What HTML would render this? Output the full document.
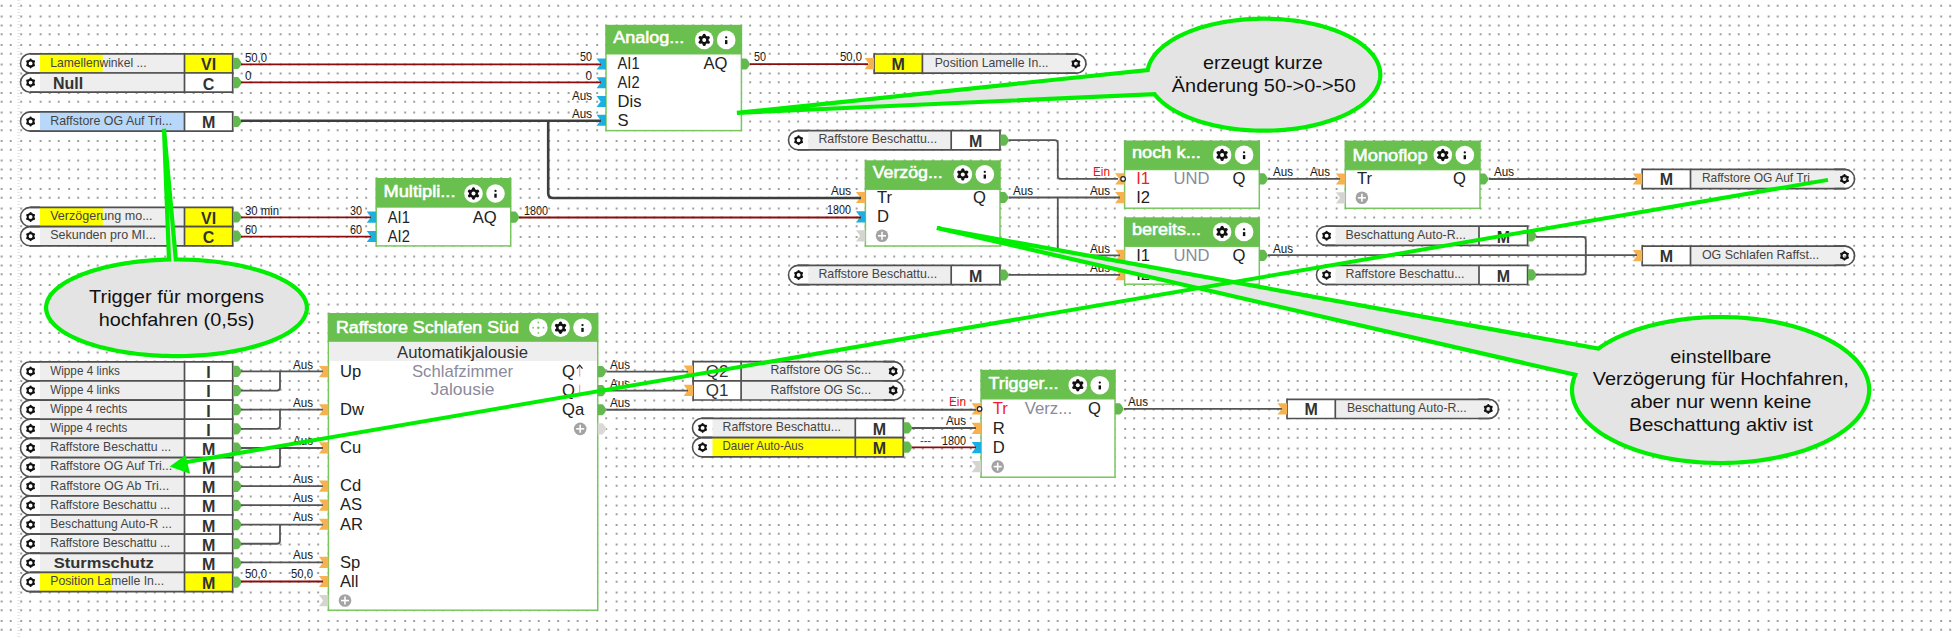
<!DOCTYPE html>
<html><head><meta charset="utf-8">
<style>
html,body{margin:0;padding:0;background:#fff;}
body{width:1956px;height:638px;overflow:hidden;position:relative;font-family:'Liberation Sans', sans-serif;}
svg{position:absolute;left:0;top:0;}
svg text{font-family:'Liberation Sans', sans-serif;}
</style></head><body>
<svg width="1956" height="638" viewBox="0 0 1956 638">
<defs><pattern id="dp" patternUnits="userSpaceOnUse" x="0" y="0" width="48" height="48"><path d="M0.66 4.8h2v2h-2zM9.76 4.8h2v2h-2zM20.2 4.8h2v2h-2zM29.17 4.8h2v2h-2zM39.63 4.8h2v2h-2zM0.66 15.5h2v2h-2zM9.76 15.5h2v2h-2zM20.2 15.5h2v2h-2zM29.17 15.5h2v2h-2zM39.63 15.5h2v2h-2zM0.66 24.4h2v2h-2zM9.76 24.4h2v2h-2zM20.2 24.4h2v2h-2zM29.17 24.4h2v2h-2zM39.63 24.4h2v2h-2zM0.66 33.3h2v2h-2zM9.76 33.3h2v2h-2zM20.2 33.3h2v2h-2zM29.17 33.3h2v2h-2zM39.63 33.3h2v2h-2zM0.66 43.9h2v2h-2zM9.76 43.9h2v2h-2zM20.2 43.9h2v2h-2zM29.17 43.9h2v2h-2zM39.63 43.9h2v2h-2z" fill="rgb(160,160,160)"/></pattern></defs><rect x="0" y="0" width="1956" height="638" fill="url(#dp)"/>
<line x1="18.8" y1="0" x2="18.8" y2="638" stroke="#e6e6e6" stroke-width="3" stroke-dasharray="1 2"/>
<rect x="40" y="53.8" width="144.5" height="19.2" fill="#eeeeee"/>
<rect x="40" y="53.8" width="62.7" height="19.2" fill="#ffff00"/>
<rect x="184.5" y="53.8" width="48.2" height="19.2" fill="#ffff00"/>
<path d="M40 53.8 L30.1 53.8 A9.6 9.6 0 0 0 30.1 73 L40 73" fill="#fff" stroke="#505050" stroke-width="1.6"/>
<line x1="30.1" y1="53.8" x2="232.7" y2="53.8" stroke="#505050" stroke-width="1.7"/>
<line x1="30.1" y1="73" x2="232.7" y2="73" stroke="#505050" stroke-width="1.7"/>
<line x1="184.5" y1="53.8" x2="184.5" y2="73" stroke="#505050" stroke-width="1.7"/>
<line x1="232.7" y1="53" x2="232.7" y2="73.8" stroke="#505050" stroke-width="1.7"/>
<circle cx="30.6" cy="63.4" r="2.94" fill="none" stroke="#111" stroke-width="1.99"/>
<circle cx="30.6" cy="59.5" r="1.09" fill="#111"/>
<circle cx="33.97" cy="61.45" r="1.09" fill="#111"/>
<circle cx="33.97" cy="65.35" r="1.09" fill="#111"/>
<circle cx="30.6" cy="67.3" r="1.09" fill="#111"/>
<circle cx="27.23" cy="65.35" r="1.09" fill="#111"/>
<circle cx="27.23" cy="61.45" r="1.09" fill="#111"/>
<text x="50.2" y="66.6" font-size="11.9" fill="#444444" textLength="96.4" lengthAdjust="spacingAndGlyphs">Lamellenwinkel ...</text>
<text x="208.6" y="70.3" font-size="16" fill="#333" font-weight="bold" text-anchor="middle">VI</text>
<path d="M233.1 57.8 L237.7 57.8 Q239.3 58.4 241.9 63.4 Q239.3 68.4 237.7 69 L233.1 69 Z" fill="#63b950"/>
<rect x="40" y="73" width="144.5" height="19.2" fill="#eeeeee"/>
<rect x="184.5" y="73" width="48.2" height="19.2" fill="#fff"/>
<path d="M40 73 L30.1 73 A9.6 9.6 0 0 0 30.1 92.2 L40 92.2" fill="#fff" stroke="#505050" stroke-width="1.6"/>
<line x1="30.1" y1="73" x2="232.7" y2="73" stroke="#505050" stroke-width="1.7"/>
<line x1="30.1" y1="92.2" x2="232.7" y2="92.2" stroke="#505050" stroke-width="1.7"/>
<line x1="184.5" y1="73" x2="184.5" y2="92.2" stroke="#505050" stroke-width="1.7"/>
<line x1="232.7" y1="72.2" x2="232.7" y2="93" stroke="#505050" stroke-width="1.7"/>
<circle cx="30.6" cy="82.6" r="2.94" fill="none" stroke="#111" stroke-width="1.99"/>
<circle cx="30.6" cy="78.7" r="1.09" fill="#111"/>
<circle cx="33.97" cy="80.65" r="1.09" fill="#111"/>
<circle cx="33.97" cy="84.55" r="1.09" fill="#111"/>
<circle cx="30.6" cy="86.49" r="1.09" fill="#111"/>
<circle cx="27.23" cy="84.55" r="1.09" fill="#111"/>
<circle cx="27.23" cy="80.65" r="1.09" fill="#111"/>
<text x="52.9" y="88.6" font-size="16.2" fill="#333" font-weight="bold" textLength="30.2" lengthAdjust="spacingAndGlyphs">Null</text>
<text x="208.6" y="89.5" font-size="16" fill="#333" font-weight="bold" text-anchor="middle">C</text>
<path d="M233.1 77 L237.7 77 Q239.3 77.6 241.9 82.6 Q239.3 87.6 237.7 88.2 L233.1 88.2 Z" fill="#63b950"/>
<rect x="40" y="111.9" width="144.5" height="19.2" fill="#b8d8fa"/>
<rect x="184.5" y="111.9" width="48.2" height="19.2" fill="#fff"/>
<path d="M40 111.9 L30.1 111.9 A9.6 9.6 0 0 0 30.1 131.1 L40 131.1" fill="#fff" stroke="#505050" stroke-width="1.6"/>
<line x1="30.1" y1="111.9" x2="232.7" y2="111.9" stroke="#505050" stroke-width="1.7"/>
<line x1="30.1" y1="131.1" x2="232.7" y2="131.1" stroke="#505050" stroke-width="1.7"/>
<line x1="184.5" y1="111.9" x2="184.5" y2="131.1" stroke="#505050" stroke-width="1.7"/>
<line x1="232.7" y1="111.1" x2="232.7" y2="131.9" stroke="#505050" stroke-width="1.7"/>
<circle cx="30.6" cy="121.5" r="2.94" fill="none" stroke="#111" stroke-width="1.99"/>
<circle cx="30.6" cy="117.61" r="1.09" fill="#111"/>
<circle cx="33.97" cy="119.55" r="1.09" fill="#111"/>
<circle cx="33.97" cy="123.45" r="1.09" fill="#111"/>
<circle cx="30.6" cy="125.39" r="1.09" fill="#111"/>
<circle cx="27.23" cy="123.45" r="1.09" fill="#111"/>
<circle cx="27.23" cy="119.55" r="1.09" fill="#111"/>
<text x="50.2" y="124.7" font-size="11.9" fill="#444444" textLength="122" lengthAdjust="spacingAndGlyphs">Raffstore OG Auf Tri...</text>
<text x="208.6" y="128.4" font-size="16" fill="#333" font-weight="bold" text-anchor="middle">M</text>
<path d="M233.1 115.9 L237.7 115.9 Q239.3 116.5 241.9 121.5 Q239.3 126.5 237.7 127.1 L233.1 127.1 Z" fill="#63b950"/>
<rect x="40" y="207.4" width="144.5" height="19.2" fill="#eeeeee"/>
<rect x="40" y="207.4" width="62.8" height="19.2" fill="#ffff00"/>
<rect x="184.5" y="207.4" width="48.2" height="19.2" fill="#ffff00"/>
<path d="M40 207.4 L30.1 207.4 A9.6 9.6 0 0 0 30.1 226.6 L40 226.6" fill="#fff" stroke="#505050" stroke-width="1.6"/>
<line x1="30.1" y1="207.4" x2="232.7" y2="207.4" stroke="#505050" stroke-width="1.7"/>
<line x1="30.1" y1="226.6" x2="232.7" y2="226.6" stroke="#505050" stroke-width="1.7"/>
<line x1="184.5" y1="207.4" x2="184.5" y2="226.6" stroke="#505050" stroke-width="1.7"/>
<line x1="232.7" y1="206.6" x2="232.7" y2="227.4" stroke="#505050" stroke-width="1.7"/>
<circle cx="30.6" cy="217" r="2.94" fill="none" stroke="#111" stroke-width="1.99"/>
<circle cx="30.6" cy="213.1" r="1.09" fill="#111"/>
<circle cx="33.97" cy="215.05" r="1.09" fill="#111"/>
<circle cx="33.97" cy="218.95" r="1.09" fill="#111"/>
<circle cx="30.6" cy="220.9" r="1.09" fill="#111"/>
<circle cx="27.23" cy="218.95" r="1.09" fill="#111"/>
<circle cx="27.23" cy="215.05" r="1.09" fill="#111"/>
<text x="50.2" y="220.2" font-size="11.9" fill="#444444" textLength="102.4" lengthAdjust="spacingAndGlyphs">Verzögerung  mo...</text>
<text x="208.6" y="223.9" font-size="16" fill="#333" font-weight="bold" text-anchor="middle">VI</text>
<path d="M233.1 211.4 L237.7 211.4 Q239.3 212 241.9 217 Q239.3 222 237.7 222.6 L233.1 222.6 Z" fill="#63b950"/>
<rect x="40" y="226.6" width="144.5" height="19.2" fill="#eeeeee"/>
<rect x="184.5" y="226.6" width="48.2" height="19.2" fill="#ffff00"/>
<path d="M40 226.6 L30.1 226.6 A9.6 9.6 0 0 0 30.1 245.8 L40 245.8" fill="#fff" stroke="#505050" stroke-width="1.6"/>
<line x1="30.1" y1="226.6" x2="232.7" y2="226.6" stroke="#505050" stroke-width="1.7"/>
<line x1="30.1" y1="245.8" x2="232.7" y2="245.8" stroke="#505050" stroke-width="1.7"/>
<line x1="184.5" y1="226.6" x2="184.5" y2="245.8" stroke="#505050" stroke-width="1.7"/>
<line x1="232.7" y1="225.8" x2="232.7" y2="246.6" stroke="#505050" stroke-width="1.7"/>
<circle cx="30.6" cy="236.2" r="2.94" fill="none" stroke="#111" stroke-width="1.99"/>
<circle cx="30.6" cy="232.3" r="1.09" fill="#111"/>
<circle cx="33.97" cy="234.25" r="1.09" fill="#111"/>
<circle cx="33.97" cy="238.15" r="1.09" fill="#111"/>
<circle cx="30.6" cy="240.09" r="1.09" fill="#111"/>
<circle cx="27.23" cy="238.15" r="1.09" fill="#111"/>
<circle cx="27.23" cy="234.25" r="1.09" fill="#111"/>
<text x="50.2" y="239.4" font-size="11.9" fill="#444444" textLength="105.7" lengthAdjust="spacingAndGlyphs">Sekunden  pro  MI...</text>
<text x="208.6" y="243.1" font-size="16" fill="#333" font-weight="bold" text-anchor="middle">C</text>
<path d="M233.1 230.6 L237.7 230.6 Q239.3 231.2 241.9 236.2 Q239.3 241.2 237.7 241.8 L233.1 241.8 Z" fill="#63b950"/>
<rect x="40" y="361.8" width="144.5" height="19.2" fill="#eeeeee"/>
<rect x="184.5" y="361.8" width="48.2" height="19.2" fill="#fff"/>
<path d="M40 361.8 L30.1 361.8 A9.6 9.6 0 0 0 30.1 381 L40 381" fill="#fff" stroke="#505050" stroke-width="1.6"/>
<line x1="30.1" y1="361.8" x2="232.7" y2="361.8" stroke="#505050" stroke-width="1.7"/>
<line x1="30.1" y1="381" x2="232.7" y2="381" stroke="#505050" stroke-width="1.7"/>
<line x1="184.5" y1="361.8" x2="184.5" y2="381" stroke="#505050" stroke-width="1.7"/>
<line x1="232.7" y1="361" x2="232.7" y2="381.8" stroke="#505050" stroke-width="1.7"/>
<circle cx="30.6" cy="371.4" r="2.94" fill="none" stroke="#111" stroke-width="1.99"/>
<circle cx="30.6" cy="367.51" r="1.09" fill="#111"/>
<circle cx="33.97" cy="369.45" r="1.09" fill="#111"/>
<circle cx="33.97" cy="373.35" r="1.09" fill="#111"/>
<circle cx="30.6" cy="375.3" r="1.09" fill="#111"/>
<circle cx="27.23" cy="373.35" r="1.09" fill="#111"/>
<circle cx="27.23" cy="369.45" r="1.09" fill="#111"/>
<text x="50.2" y="374.6" font-size="11.9" fill="#444444" textLength="69.7" lengthAdjust="spacingAndGlyphs">Wippe 4 links</text>
<text x="208.6" y="378.3" font-size="16" fill="#333" font-weight="bold" text-anchor="middle">I</text>
<path d="M233.1 365.8 L237.7 365.8 Q239.3 366.4 241.9 371.4 Q239.3 376.4 237.7 377 L233.1 377 Z" fill="#63b950"/>
<rect x="40" y="380.95" width="144.5" height="19.2" fill="#eeeeee"/>
<rect x="184.5" y="380.95" width="48.2" height="19.2" fill="#fff"/>
<path d="M40 380.95 L30.1 380.95 A9.6 9.6 0 0 0 30.1 400.15 L40 400.15" fill="#fff" stroke="#505050" stroke-width="1.6"/>
<line x1="30.1" y1="380.95" x2="232.7" y2="380.95" stroke="#505050" stroke-width="1.7"/>
<line x1="30.1" y1="400.15" x2="232.7" y2="400.15" stroke="#505050" stroke-width="1.7"/>
<line x1="184.5" y1="380.95" x2="184.5" y2="400.15" stroke="#505050" stroke-width="1.7"/>
<line x1="232.7" y1="380.15" x2="232.7" y2="400.95" stroke="#505050" stroke-width="1.7"/>
<circle cx="30.6" cy="390.55" r="2.94" fill="none" stroke="#111" stroke-width="1.99"/>
<circle cx="30.6" cy="386.66" r="1.09" fill="#111"/>
<circle cx="33.97" cy="388.6" r="1.09" fill="#111"/>
<circle cx="33.97" cy="392.5" r="1.09" fill="#111"/>
<circle cx="30.6" cy="394.44" r="1.09" fill="#111"/>
<circle cx="27.23" cy="392.5" r="1.09" fill="#111"/>
<circle cx="27.23" cy="388.6" r="1.09" fill="#111"/>
<text x="50.2" y="393.75" font-size="11.9" fill="#444444" textLength="69.7" lengthAdjust="spacingAndGlyphs">Wippe 4 links</text>
<text x="208.6" y="397.45" font-size="16" fill="#333" font-weight="bold" text-anchor="middle">I</text>
<path d="M233.1 384.95 L237.7 384.95 Q239.3 385.55 241.9 390.55 Q239.3 395.55 237.7 396.15 L233.1 396.15 Z" fill="#63b950"/>
<rect x="40" y="400.1" width="144.5" height="19.2" fill="#eeeeee"/>
<rect x="184.5" y="400.1" width="48.2" height="19.2" fill="#fff"/>
<path d="M40 400.1 L30.1 400.1 A9.6 9.6 0 0 0 30.1 419.3 L40 419.3" fill="#fff" stroke="#505050" stroke-width="1.6"/>
<line x1="30.1" y1="400.1" x2="232.7" y2="400.1" stroke="#505050" stroke-width="1.7"/>
<line x1="30.1" y1="419.3" x2="232.7" y2="419.3" stroke="#505050" stroke-width="1.7"/>
<line x1="184.5" y1="400.1" x2="184.5" y2="419.3" stroke="#505050" stroke-width="1.7"/>
<line x1="232.7" y1="399.3" x2="232.7" y2="420.1" stroke="#505050" stroke-width="1.7"/>
<circle cx="30.6" cy="409.7" r="2.94" fill="none" stroke="#111" stroke-width="1.99"/>
<circle cx="30.6" cy="405.81" r="1.09" fill="#111"/>
<circle cx="33.97" cy="407.75" r="1.09" fill="#111"/>
<circle cx="33.97" cy="411.65" r="1.09" fill="#111"/>
<circle cx="30.6" cy="413.6" r="1.09" fill="#111"/>
<circle cx="27.23" cy="411.65" r="1.09" fill="#111"/>
<circle cx="27.23" cy="407.75" r="1.09" fill="#111"/>
<text x="50.2" y="412.9" font-size="11.9" fill="#444444" textLength="77" lengthAdjust="spacingAndGlyphs">Wippe 4 rechts</text>
<text x="208.6" y="416.6" font-size="16" fill="#333" font-weight="bold" text-anchor="middle">I</text>
<path d="M233.1 404.1 L237.7 404.1 Q239.3 404.7 241.9 409.7 Q239.3 414.7 237.7 415.3 L233.1 415.3 Z" fill="#63b950"/>
<rect x="40" y="419.25" width="144.5" height="19.2" fill="#eeeeee"/>
<rect x="184.5" y="419.25" width="48.2" height="19.2" fill="#fff"/>
<path d="M40 419.25 L30.1 419.25 A9.6 9.6 0 0 0 30.1 438.45 L40 438.45" fill="#fff" stroke="#505050" stroke-width="1.6"/>
<line x1="30.1" y1="419.25" x2="232.7" y2="419.25" stroke="#505050" stroke-width="1.7"/>
<line x1="30.1" y1="438.45" x2="232.7" y2="438.45" stroke="#505050" stroke-width="1.7"/>
<line x1="184.5" y1="419.25" x2="184.5" y2="438.45" stroke="#505050" stroke-width="1.7"/>
<line x1="232.7" y1="418.45" x2="232.7" y2="439.25" stroke="#505050" stroke-width="1.7"/>
<circle cx="30.6" cy="428.85" r="2.94" fill="none" stroke="#111" stroke-width="1.99"/>
<circle cx="30.6" cy="424.96" r="1.09" fill="#111"/>
<circle cx="33.97" cy="426.9" r="1.09" fill="#111"/>
<circle cx="33.97" cy="430.8" r="1.09" fill="#111"/>
<circle cx="30.6" cy="432.75" r="1.09" fill="#111"/>
<circle cx="27.23" cy="430.8" r="1.09" fill="#111"/>
<circle cx="27.23" cy="426.9" r="1.09" fill="#111"/>
<text x="50.2" y="432.05" font-size="11.9" fill="#444444" textLength="77" lengthAdjust="spacingAndGlyphs">Wippe 4 rechts</text>
<text x="208.6" y="435.75" font-size="16" fill="#333" font-weight="bold" text-anchor="middle">I</text>
<path d="M233.1 423.25 L237.7 423.25 Q239.3 423.85 241.9 428.85 Q239.3 433.85 237.7 434.45 L233.1 434.45 Z" fill="#63b950"/>
<rect x="40" y="438.4" width="144.5" height="19.2" fill="#eeeeee"/>
<rect x="184.5" y="438.4" width="48.2" height="19.2" fill="#fff"/>
<path d="M40 438.4 L30.1 438.4 A9.6 9.6 0 0 0 30.1 457.6 L40 457.6" fill="#fff" stroke="#505050" stroke-width="1.6"/>
<line x1="30.1" y1="438.4" x2="232.7" y2="438.4" stroke="#505050" stroke-width="1.7"/>
<line x1="30.1" y1="457.6" x2="232.7" y2="457.6" stroke="#505050" stroke-width="1.7"/>
<line x1="184.5" y1="438.4" x2="184.5" y2="457.6" stroke="#505050" stroke-width="1.7"/>
<line x1="232.7" y1="437.6" x2="232.7" y2="458.4" stroke="#505050" stroke-width="1.7"/>
<circle cx="30.6" cy="448" r="2.94" fill="none" stroke="#111" stroke-width="1.99"/>
<circle cx="30.6" cy="444.11" r="1.09" fill="#111"/>
<circle cx="33.97" cy="446.05" r="1.09" fill="#111"/>
<circle cx="33.97" cy="449.95" r="1.09" fill="#111"/>
<circle cx="30.6" cy="451.89" r="1.09" fill="#111"/>
<circle cx="27.23" cy="449.95" r="1.09" fill="#111"/>
<circle cx="27.23" cy="446.05" r="1.09" fill="#111"/>
<text x="50.2" y="451.2" font-size="11.9" fill="#444444" textLength="121" lengthAdjust="spacingAndGlyphs">Raffstore  Beschattu ...</text>
<text x="208.6" y="454.9" font-size="16" fill="#333" font-weight="bold" text-anchor="middle">M</text>
<path d="M233.1 442.4 L237.7 442.4 Q239.3 443 241.9 448 Q239.3 453 237.7 453.6 L233.1 453.6 Z" fill="#63b950"/>
<rect x="40" y="457.55" width="144.5" height="19.2" fill="#eeeeee"/>
<rect x="184.5" y="457.55" width="48.2" height="19.2" fill="#fff"/>
<path d="M40 457.55 L30.1 457.55 A9.6 9.6 0 0 0 30.1 476.75 L40 476.75" fill="#fff" stroke="#505050" stroke-width="1.6"/>
<line x1="30.1" y1="457.55" x2="232.7" y2="457.55" stroke="#505050" stroke-width="1.7"/>
<line x1="30.1" y1="476.75" x2="232.7" y2="476.75" stroke="#505050" stroke-width="1.7"/>
<line x1="184.5" y1="457.55" x2="184.5" y2="476.75" stroke="#505050" stroke-width="1.7"/>
<line x1="232.7" y1="456.75" x2="232.7" y2="477.55" stroke="#505050" stroke-width="1.7"/>
<circle cx="30.6" cy="467.15" r="2.94" fill="none" stroke="#111" stroke-width="1.99"/>
<circle cx="30.6" cy="463.26" r="1.09" fill="#111"/>
<circle cx="33.97" cy="465.2" r="1.09" fill="#111"/>
<circle cx="33.97" cy="469.1" r="1.09" fill="#111"/>
<circle cx="30.6" cy="471.05" r="1.09" fill="#111"/>
<circle cx="27.23" cy="469.1" r="1.09" fill="#111"/>
<circle cx="27.23" cy="465.2" r="1.09" fill="#111"/>
<text x="50.2" y="470.35" font-size="11.9" fill="#444444" textLength="122" lengthAdjust="spacingAndGlyphs">Raffstore  OG  Auf  Tri...</text>
<text x="208.6" y="474.05" font-size="16" fill="#333" font-weight="bold" text-anchor="middle">M</text>
<path d="M233.1 461.55 L237.7 461.55 Q239.3 462.15 241.9 467.15 Q239.3 472.15 237.7 472.75 L233.1 472.75 Z" fill="#63b950"/>
<rect x="40" y="476.7" width="144.5" height="19.2" fill="#eeeeee"/>
<rect x="184.5" y="476.7" width="48.2" height="19.2" fill="#fff"/>
<path d="M40 476.7 L30.1 476.7 A9.6 9.6 0 0 0 30.1 495.9 L40 495.9" fill="#fff" stroke="#505050" stroke-width="1.6"/>
<line x1="30.1" y1="476.7" x2="232.7" y2="476.7" stroke="#505050" stroke-width="1.7"/>
<line x1="30.1" y1="495.9" x2="232.7" y2="495.9" stroke="#505050" stroke-width="1.7"/>
<line x1="184.5" y1="476.7" x2="184.5" y2="495.9" stroke="#505050" stroke-width="1.7"/>
<line x1="232.7" y1="475.9" x2="232.7" y2="496.7" stroke="#505050" stroke-width="1.7"/>
<circle cx="30.6" cy="486.3" r="2.94" fill="none" stroke="#111" stroke-width="1.99"/>
<circle cx="30.6" cy="482.41" r="1.09" fill="#111"/>
<circle cx="33.97" cy="484.35" r="1.09" fill="#111"/>
<circle cx="33.97" cy="488.25" r="1.09" fill="#111"/>
<circle cx="30.6" cy="490.19" r="1.09" fill="#111"/>
<circle cx="27.23" cy="488.25" r="1.09" fill="#111"/>
<circle cx="27.23" cy="484.35" r="1.09" fill="#111"/>
<text x="50.2" y="489.5" font-size="11.9" fill="#444444" textLength="119" lengthAdjust="spacingAndGlyphs">Raffstore  OG  Ab  Tri...</text>
<text x="208.6" y="493.2" font-size="16" fill="#333" font-weight="bold" text-anchor="middle">M</text>
<path d="M233.1 480.7 L237.7 480.7 Q239.3 481.3 241.9 486.3 Q239.3 491.3 237.7 491.9 L233.1 491.9 Z" fill="#63b950"/>
<rect x="40" y="495.85" width="144.5" height="19.2" fill="#eeeeee"/>
<rect x="184.5" y="495.85" width="48.2" height="19.2" fill="#fff"/>
<path d="M40 495.85 L30.1 495.85 A9.6 9.6 0 0 0 30.1 515.05 L40 515.05" fill="#fff" stroke="#505050" stroke-width="1.6"/>
<line x1="30.1" y1="495.85" x2="232.7" y2="495.85" stroke="#505050" stroke-width="1.7"/>
<line x1="30.1" y1="515.05" x2="232.7" y2="515.05" stroke="#505050" stroke-width="1.7"/>
<line x1="184.5" y1="495.85" x2="184.5" y2="515.05" stroke="#505050" stroke-width="1.7"/>
<line x1="232.7" y1="495.05" x2="232.7" y2="515.85" stroke="#505050" stroke-width="1.7"/>
<circle cx="30.6" cy="505.45" r="2.94" fill="none" stroke="#111" stroke-width="1.99"/>
<circle cx="30.6" cy="501.56" r="1.09" fill="#111"/>
<circle cx="33.97" cy="503.5" r="1.09" fill="#111"/>
<circle cx="33.97" cy="507.4" r="1.09" fill="#111"/>
<circle cx="30.6" cy="509.35" r="1.09" fill="#111"/>
<circle cx="27.23" cy="507.4" r="1.09" fill="#111"/>
<circle cx="27.23" cy="503.5" r="1.09" fill="#111"/>
<text x="50.2" y="508.65" font-size="11.9" fill="#444444" textLength="120" lengthAdjust="spacingAndGlyphs">Raffstore  Beschattu ...</text>
<text x="208.6" y="512.35" font-size="16" fill="#333" font-weight="bold" text-anchor="middle">M</text>
<path d="M233.1 499.85 L237.7 499.85 Q239.3 500.45 241.9 505.45 Q239.3 510.45 237.7 511.05 L233.1 511.05 Z" fill="#63b950"/>
<rect x="40" y="515" width="144.5" height="19.2" fill="#eeeeee"/>
<rect x="184.5" y="515" width="48.2" height="19.2" fill="#fff"/>
<path d="M40 515 L30.1 515 A9.6 9.6 0 0 0 30.1 534.2 L40 534.2" fill="#fff" stroke="#505050" stroke-width="1.6"/>
<line x1="30.1" y1="515" x2="232.7" y2="515" stroke="#505050" stroke-width="1.7"/>
<line x1="30.1" y1="534.2" x2="232.7" y2="534.2" stroke="#505050" stroke-width="1.7"/>
<line x1="184.5" y1="515" x2="184.5" y2="534.2" stroke="#505050" stroke-width="1.7"/>
<line x1="232.7" y1="514.2" x2="232.7" y2="535" stroke="#505050" stroke-width="1.7"/>
<circle cx="30.6" cy="524.6" r="2.94" fill="none" stroke="#111" stroke-width="1.99"/>
<circle cx="30.6" cy="520.71" r="1.09" fill="#111"/>
<circle cx="33.97" cy="522.65" r="1.09" fill="#111"/>
<circle cx="33.97" cy="526.55" r="1.09" fill="#111"/>
<circle cx="30.6" cy="528.5" r="1.09" fill="#111"/>
<circle cx="27.23" cy="526.55" r="1.09" fill="#111"/>
<circle cx="27.23" cy="522.65" r="1.09" fill="#111"/>
<text x="50.2" y="527.8" font-size="11.9" fill="#444444" textLength="121.6" lengthAdjust="spacingAndGlyphs">Beschattung  Auto-R ...</text>
<text x="208.6" y="531.5" font-size="16" fill="#333" font-weight="bold" text-anchor="middle">M</text>
<path d="M233.1 519 L237.7 519 Q239.3 519.6 241.9 524.6 Q239.3 529.6 237.7 530.2 L233.1 530.2 Z" fill="#63b950"/>
<rect x="40" y="534.15" width="144.5" height="19.2" fill="#eeeeee"/>
<rect x="184.5" y="534.15" width="48.2" height="19.2" fill="#fff"/>
<path d="M40 534.15 L30.1 534.15 A9.6 9.6 0 0 0 30.1 553.35 L40 553.35" fill="#fff" stroke="#505050" stroke-width="1.6"/>
<line x1="30.1" y1="534.15" x2="232.7" y2="534.15" stroke="#505050" stroke-width="1.7"/>
<line x1="30.1" y1="553.35" x2="232.7" y2="553.35" stroke="#505050" stroke-width="1.7"/>
<line x1="184.5" y1="534.15" x2="184.5" y2="553.35" stroke="#505050" stroke-width="1.7"/>
<line x1="232.7" y1="533.35" x2="232.7" y2="554.15" stroke="#505050" stroke-width="1.7"/>
<circle cx="30.6" cy="543.75" r="2.94" fill="none" stroke="#111" stroke-width="1.99"/>
<circle cx="30.6" cy="539.86" r="1.09" fill="#111"/>
<circle cx="33.97" cy="541.8" r="1.09" fill="#111"/>
<circle cx="33.97" cy="545.7" r="1.09" fill="#111"/>
<circle cx="30.6" cy="547.64" r="1.09" fill="#111"/>
<circle cx="27.23" cy="545.7" r="1.09" fill="#111"/>
<circle cx="27.23" cy="541.8" r="1.09" fill="#111"/>
<text x="50.2" y="546.95" font-size="11.9" fill="#444444" textLength="120" lengthAdjust="spacingAndGlyphs">Raffstore  Beschattu ...</text>
<text x="208.6" y="550.65" font-size="16" fill="#333" font-weight="bold" text-anchor="middle">M</text>
<path d="M233.1 538.15 L237.7 538.15 Q239.3 538.75 241.9 543.75 Q239.3 548.75 237.7 549.35 L233.1 549.35 Z" fill="#63b950"/>
<rect x="40" y="553.3" width="144.5" height="19.2" fill="#eeeeee"/>
<rect x="184.5" y="553.3" width="48.2" height="19.2" fill="#fff"/>
<path d="M40 553.3 L30.1 553.3 A9.6 9.6 0 0 0 30.1 572.5 L40 572.5" fill="#fff" stroke="#505050" stroke-width="1.6"/>
<line x1="30.1" y1="553.3" x2="232.7" y2="553.3" stroke="#505050" stroke-width="1.7"/>
<line x1="30.1" y1="572.5" x2="232.7" y2="572.5" stroke="#505050" stroke-width="1.7"/>
<line x1="184.5" y1="553.3" x2="184.5" y2="572.5" stroke="#505050" stroke-width="1.7"/>
<line x1="232.7" y1="552.5" x2="232.7" y2="573.3" stroke="#505050" stroke-width="1.7"/>
<circle cx="30.6" cy="562.9" r="2.94" fill="none" stroke="#111" stroke-width="1.99"/>
<circle cx="30.6" cy="559" r="1.09" fill="#111"/>
<circle cx="33.97" cy="560.95" r="1.09" fill="#111"/>
<circle cx="33.97" cy="564.85" r="1.09" fill="#111"/>
<circle cx="30.6" cy="566.79" r="1.09" fill="#111"/>
<circle cx="27.23" cy="564.85" r="1.09" fill="#111"/>
<circle cx="27.23" cy="560.95" r="1.09" fill="#111"/>
<text x="53.7" y="568" font-size="14.8" fill="#333" font-weight="bold" textLength="100" lengthAdjust="spacingAndGlyphs">Sturmschutz</text>
<text x="208.6" y="569.8" font-size="16" fill="#333" font-weight="bold" text-anchor="middle">M</text>
<path d="M233.1 557.3 L237.7 557.3 Q239.3 557.9 241.9 562.9 Q239.3 567.9 237.7 568.5 L233.1 568.5 Z" fill="#63b950"/>
<rect x="40" y="572.45" width="144.5" height="19.2" fill="#eeeeee"/>
<rect x="40" y="572.45" width="72" height="19.2" fill="#ffff00"/>
<rect x="184.5" y="572.45" width="48.2" height="19.2" fill="#ffff00"/>
<path d="M40 572.45 L30.1 572.45 A9.6 9.6 0 0 0 30.1 591.65 L40 591.65" fill="#fff" stroke="#505050" stroke-width="1.6"/>
<line x1="30.1" y1="572.45" x2="232.7" y2="572.45" stroke="#505050" stroke-width="1.7"/>
<line x1="30.1" y1="591.65" x2="232.7" y2="591.65" stroke="#505050" stroke-width="1.7"/>
<line x1="184.5" y1="572.45" x2="184.5" y2="591.65" stroke="#505050" stroke-width="1.7"/>
<line x1="232.7" y1="571.65" x2="232.7" y2="592.45" stroke="#505050" stroke-width="1.7"/>
<circle cx="30.6" cy="582.05" r="2.94" fill="none" stroke="#111" stroke-width="1.99"/>
<circle cx="30.6" cy="578.16" r="1.09" fill="#111"/>
<circle cx="33.97" cy="580.1" r="1.09" fill="#111"/>
<circle cx="33.97" cy="584" r="1.09" fill="#111"/>
<circle cx="30.6" cy="585.95" r="1.09" fill="#111"/>
<circle cx="27.23" cy="584" r="1.09" fill="#111"/>
<circle cx="27.23" cy="580.1" r="1.09" fill="#111"/>
<text x="50.2" y="585.25" font-size="11.9" fill="#444444" textLength="114" lengthAdjust="spacingAndGlyphs">Position  Lamelle  In...</text>
<text x="208.6" y="588.95" font-size="16" fill="#333" font-weight="bold" text-anchor="middle">M</text>
<path d="M233.1 576.45 L237.7 576.45 Q239.3 577.05 241.9 582.05 Q239.3 587.05 237.7 587.65 L233.1 587.65 Z" fill="#63b950"/>
<rect x="808.2" y="130.6" width="143" height="19.2" fill="#eeeeee"/>
<rect x="951.2" y="130.6" width="48.8" height="19.2" fill="#fff"/>
<path d="M808.2 130.6 L798.1 130.6 A9.6 9.6 0 0 0 798.1 149.8 L808.2 149.8" fill="#fff" stroke="#505050" stroke-width="1.6"/>
<line x1="798.1" y1="130.6" x2="1000" y2="130.6" stroke="#505050" stroke-width="1.7"/>
<line x1="798.1" y1="149.8" x2="1000" y2="149.8" stroke="#505050" stroke-width="1.7"/>
<line x1="951.2" y1="130.6" x2="951.2" y2="149.8" stroke="#505050" stroke-width="1.7"/>
<line x1="1000" y1="129.8" x2="1000" y2="150.6" stroke="#505050" stroke-width="1.7"/>
<circle cx="798.6" cy="140.2" r="2.94" fill="none" stroke="#111" stroke-width="1.99"/>
<circle cx="798.6" cy="136.3" r="1.09" fill="#111"/>
<circle cx="801.97" cy="138.25" r="1.09" fill="#111"/>
<circle cx="801.97" cy="142.15" r="1.09" fill="#111"/>
<circle cx="798.6" cy="144.09" r="1.09" fill="#111"/>
<circle cx="795.23" cy="142.15" r="1.09" fill="#111"/>
<circle cx="795.23" cy="138.25" r="1.09" fill="#111"/>
<text x="818.4" y="143.4" font-size="11.9" fill="#444444" textLength="118.8" lengthAdjust="spacingAndGlyphs">Raffstore  Beschattu...</text>
<text x="975.6" y="147.1" font-size="16" fill="#333" font-weight="bold" text-anchor="middle">M</text>
<path d="M1000.4 134.6 L1005 134.6 Q1006.6 135.2 1009.2 140.2 Q1006.6 145.2 1005 145.8 L1000.4 145.8 Z" fill="#63b950"/>
<rect x="808.2" y="265.4" width="143" height="19.2" fill="#eeeeee"/>
<rect x="951.2" y="265.4" width="48.8" height="19.2" fill="#fff"/>
<path d="M808.2 265.4 L798.1 265.4 A9.6 9.6 0 0 0 798.1 284.6 L808.2 284.6" fill="#fff" stroke="#505050" stroke-width="1.6"/>
<line x1="798.1" y1="265.4" x2="1000" y2="265.4" stroke="#505050" stroke-width="1.7"/>
<line x1="798.1" y1="284.6" x2="1000" y2="284.6" stroke="#505050" stroke-width="1.7"/>
<line x1="951.2" y1="265.4" x2="951.2" y2="284.6" stroke="#505050" stroke-width="1.7"/>
<line x1="1000" y1="264.6" x2="1000" y2="285.4" stroke="#505050" stroke-width="1.7"/>
<circle cx="798.6" cy="275" r="2.94" fill="none" stroke="#111" stroke-width="1.99"/>
<circle cx="798.6" cy="271.11" r="1.09" fill="#111"/>
<circle cx="801.97" cy="273.05" r="1.09" fill="#111"/>
<circle cx="801.97" cy="276.95" r="1.09" fill="#111"/>
<circle cx="798.6" cy="278.89" r="1.09" fill="#111"/>
<circle cx="795.23" cy="276.95" r="1.09" fill="#111"/>
<circle cx="795.23" cy="273.05" r="1.09" fill="#111"/>
<text x="818.4" y="278.2" font-size="11.9" fill="#444444" textLength="118.8" lengthAdjust="spacingAndGlyphs">Raffstore  Beschattu...</text>
<text x="975.6" y="281.9" font-size="16" fill="#333" font-weight="bold" text-anchor="middle">M</text>
<path d="M1000.4 269.4 L1005 269.4 Q1006.6 270 1009.2 275 Q1006.6 280 1005 280.6 L1000.4 280.6 Z" fill="#63b950"/>
<rect x="1335.3" y="226.2" width="143.7" height="19.2" fill="#eeeeee"/>
<rect x="1479" y="226.2" width="48.6" height="19.2" fill="#fff"/>
<path d="M1335.3 226.2 L1326.1 226.2 A9.6 9.6 0 0 0 1326.1 245.4 L1335.3 245.4" fill="#fff" stroke="#505050" stroke-width="1.6"/>
<line x1="1326.1" y1="226.2" x2="1527.6" y2="226.2" stroke="#505050" stroke-width="1.7"/>
<line x1="1326.1" y1="245.4" x2="1527.6" y2="245.4" stroke="#505050" stroke-width="1.7"/>
<line x1="1479" y1="226.2" x2="1479" y2="245.4" stroke="#505050" stroke-width="1.7"/>
<line x1="1527.6" y1="225.4" x2="1527.6" y2="246.2" stroke="#505050" stroke-width="1.7"/>
<circle cx="1326.6" cy="235.8" r="2.94" fill="none" stroke="#111" stroke-width="1.99"/>
<circle cx="1326.6" cy="231.9" r="1.09" fill="#111"/>
<circle cx="1329.97" cy="233.85" r="1.09" fill="#111"/>
<circle cx="1329.97" cy="237.75" r="1.09" fill="#111"/>
<circle cx="1326.6" cy="239.69" r="1.09" fill="#111"/>
<circle cx="1323.23" cy="237.75" r="1.09" fill="#111"/>
<circle cx="1323.23" cy="233.85" r="1.09" fill="#111"/>
<text x="1345.5" y="239" font-size="11.9" fill="#444444" textLength="120.4" lengthAdjust="spacingAndGlyphs">Beschattung  Auto-R...</text>
<text x="1503.3" y="242.7" font-size="16" fill="#333" font-weight="bold" text-anchor="middle">M</text>
<path d="M1528 230.2 L1532.6 230.2 Q1534.2 230.8 1536.8 235.8 Q1534.2 240.8 1532.6 241.4 L1528 241.4 Z" fill="#63b950"/>
<rect x="1335.3" y="265.3" width="143.7" height="19.2" fill="#eeeeee"/>
<rect x="1479" y="265.3" width="48.6" height="19.2" fill="#fff"/>
<path d="M1335.3 265.3 L1326.1 265.3 A9.6 9.6 0 0 0 1326.1 284.5 L1335.3 284.5" fill="#fff" stroke="#505050" stroke-width="1.6"/>
<line x1="1326.1" y1="265.3" x2="1527.6" y2="265.3" stroke="#505050" stroke-width="1.7"/>
<line x1="1326.1" y1="284.5" x2="1527.6" y2="284.5" stroke="#505050" stroke-width="1.7"/>
<line x1="1479" y1="265.3" x2="1479" y2="284.5" stroke="#505050" stroke-width="1.7"/>
<line x1="1527.6" y1="264.5" x2="1527.6" y2="285.3" stroke="#505050" stroke-width="1.7"/>
<circle cx="1326.6" cy="274.9" r="2.94" fill="none" stroke="#111" stroke-width="1.99"/>
<circle cx="1326.6" cy="271.01" r="1.09" fill="#111"/>
<circle cx="1329.97" cy="272.95" r="1.09" fill="#111"/>
<circle cx="1329.97" cy="276.85" r="1.09" fill="#111"/>
<circle cx="1326.6" cy="278.8" r="1.09" fill="#111"/>
<circle cx="1323.23" cy="276.85" r="1.09" fill="#111"/>
<circle cx="1323.23" cy="272.95" r="1.09" fill="#111"/>
<text x="1345.5" y="278.1" font-size="11.9" fill="#444444" textLength="119" lengthAdjust="spacingAndGlyphs">Raffstore  Beschattu...</text>
<text x="1503.3" y="281.8" font-size="16" fill="#333" font-weight="bold" text-anchor="middle">M</text>
<path d="M1528 269.3 L1532.6 269.3 Q1534.2 269.9 1536.8 274.9 Q1534.2 279.9 1532.6 280.5 L1528 280.5 Z" fill="#63b950"/>
<rect x="712.3" y="418.3" width="143" height="19.2" fill="#eeeeee"/>
<rect x="855.3" y="418.3" width="48" height="19.2" fill="#fff"/>
<path d="M712.3 418.3 L702.1 418.3 A9.6 9.6 0 0 0 702.1 437.5 L712.3 437.5" fill="#fff" stroke="#505050" stroke-width="1.6"/>
<line x1="702.1" y1="418.3" x2="903.3" y2="418.3" stroke="#505050" stroke-width="1.7"/>
<line x1="702.1" y1="437.5" x2="903.3" y2="437.5" stroke="#505050" stroke-width="1.7"/>
<line x1="855.3" y1="418.3" x2="855.3" y2="437.5" stroke="#505050" stroke-width="1.7"/>
<line x1="903.3" y1="417.5" x2="903.3" y2="438.3" stroke="#505050" stroke-width="1.7"/>
<circle cx="702.6" cy="427.9" r="2.94" fill="none" stroke="#111" stroke-width="1.99"/>
<circle cx="702.6" cy="424.01" r="1.09" fill="#111"/>
<circle cx="705.97" cy="425.95" r="1.09" fill="#111"/>
<circle cx="705.97" cy="429.85" r="1.09" fill="#111"/>
<circle cx="702.6" cy="431.8" r="1.09" fill="#111"/>
<circle cx="699.23" cy="429.85" r="1.09" fill="#111"/>
<circle cx="699.23" cy="425.95" r="1.09" fill="#111"/>
<text x="722.5" y="431.1" font-size="11.9" fill="#444444" textLength="118.5" lengthAdjust="spacingAndGlyphs">Raffstore  Beschattu...</text>
<text x="879.3" y="434.8" font-size="16" fill="#333" font-weight="bold" text-anchor="middle">M</text>
<path d="M903.7 422.3 L908.3 422.3 Q909.9 422.9 912.5 427.9 Q909.9 432.9 908.3 433.5 L903.7 433.5 Z" fill="#63b950"/>
<rect x="712.3" y="437.6" width="143" height="19.2" fill="#eeeeee"/>
<rect x="712.3" y="437.6" width="143" height="19.2" fill="#ffff00"/>
<rect x="855.3" y="437.6" width="48" height="19.2" fill="#ffff00"/>
<path d="M712.3 437.6 L702.1 437.6 A9.6 9.6 0 0 0 702.1 456.8 L712.3 456.8" fill="#fff" stroke="#505050" stroke-width="1.6"/>
<line x1="702.1" y1="437.6" x2="903.3" y2="437.6" stroke="#505050" stroke-width="1.7"/>
<line x1="702.1" y1="456.8" x2="903.3" y2="456.8" stroke="#505050" stroke-width="1.7"/>
<line x1="855.3" y1="437.6" x2="855.3" y2="456.8" stroke="#505050" stroke-width="1.7"/>
<line x1="903.3" y1="436.8" x2="903.3" y2="457.6" stroke="#505050" stroke-width="1.7"/>
<circle cx="702.6" cy="447.2" r="2.94" fill="none" stroke="#111" stroke-width="1.99"/>
<circle cx="702.6" cy="443.31" r="1.09" fill="#111"/>
<circle cx="705.97" cy="445.25" r="1.09" fill="#111"/>
<circle cx="705.97" cy="449.15" r="1.09" fill="#111"/>
<circle cx="702.6" cy="451.1" r="1.09" fill="#111"/>
<circle cx="699.23" cy="449.15" r="1.09" fill="#111"/>
<circle cx="699.23" cy="445.25" r="1.09" fill="#111"/>
<text x="722.5" y="450.4" font-size="11.9" fill="#444444" textLength="81" lengthAdjust="spacingAndGlyphs">Dauer Auto-Aus</text>
<text x="879.3" y="454.1" font-size="16" fill="#333" font-weight="bold" text-anchor="middle">M</text>
<path d="M903.7 441.6 L908.3 441.6 Q909.9 442.2 912.5 447.2 Q909.9 452.2 908.3 452.8 L903.7 452.8 Z" fill="#63b950"/>
<rect x="922.4" y="54" width="153" height="19.2" fill="#eeeeee"/>
<rect x="874.1" y="54" width="48.3" height="19.2" fill="#ffff00"/>
<path d="M1066 54 L1076.4 54 A9.6 9.6 0 0 1 1076.4 73.2 L1066 73.2" fill="none" stroke="#505050" stroke-width="1.6"/>
<line x1="874.1" y1="54" x2="1076.4" y2="54" stroke="#505050" stroke-width="1.7"/>
<line x1="874.1" y1="73.2" x2="1076.4" y2="73.2" stroke="#505050" stroke-width="1.7"/>
<line x1="874.1" y1="53.2" x2="874.1" y2="74" stroke="#505050" stroke-width="1.7"/>
<line x1="922.4" y1="54" x2="922.4" y2="73.2" stroke="#505050" stroke-width="1.7"/>
<circle cx="1075.9" cy="63.6" r="2.94" fill="none" stroke="#111" stroke-width="1.99"/>
<circle cx="1075.9" cy="59.7" r="1.09" fill="#111"/>
<circle cx="1079.27" cy="61.65" r="1.09" fill="#111"/>
<circle cx="1079.27" cy="65.55" r="1.09" fill="#111"/>
<circle cx="1075.9" cy="67.5" r="1.09" fill="#111"/>
<circle cx="1072.53" cy="65.55" r="1.09" fill="#111"/>
<circle cx="1072.53" cy="61.65" r="1.09" fill="#111"/>
<text x="934.7" y="66.8" font-size="11.9" fill="#444444" textLength="113.8" lengthAdjust="spacingAndGlyphs">Position  Lamelle  In...</text>
<text x="898.25" y="69.8" font-size="16" fill="#333" font-weight="bold" text-anchor="middle">M</text>
<path d="M864.6 58 L874.1 58 L874.1 69.2 L864.6 69.2 L868.8 63.6 Z" fill="#f6b24e"/>
<rect x="1690.5" y="169.4" width="153.5" height="19.2" fill="#eeeeee"/>
<rect x="1642.2" y="169.4" width="48.3" height="19.2" fill="#fff"/>
<path d="M1834.6 169.4 L1845 169.4 A9.6 9.6 0 0 1 1845 188.6 L1834.6 188.6" fill="none" stroke="#505050" stroke-width="1.6"/>
<line x1="1642.2" y1="169.4" x2="1845" y2="169.4" stroke="#505050" stroke-width="1.7"/>
<line x1="1642.2" y1="188.6" x2="1845" y2="188.6" stroke="#505050" stroke-width="1.7"/>
<line x1="1642.2" y1="168.6" x2="1642.2" y2="189.4" stroke="#505050" stroke-width="1.7"/>
<line x1="1690.5" y1="169.4" x2="1690.5" y2="188.6" stroke="#505050" stroke-width="1.7"/>
<circle cx="1844.5" cy="179" r="2.94" fill="none" stroke="#111" stroke-width="1.99"/>
<circle cx="1844.5" cy="175.1" r="1.09" fill="#111"/>
<circle cx="1847.87" cy="177.05" r="1.09" fill="#111"/>
<circle cx="1847.87" cy="180.95" r="1.09" fill="#111"/>
<circle cx="1844.5" cy="182.9" r="1.09" fill="#111"/>
<circle cx="1841.13" cy="180.95" r="1.09" fill="#111"/>
<circle cx="1841.13" cy="177.05" r="1.09" fill="#111"/>
<text x="1701.9" y="182.2" font-size="11.9" fill="#444444" textLength="118" lengthAdjust="spacingAndGlyphs">Raffstore OG Auf Tri...</text>
<text x="1666.35" y="185.2" font-size="16" fill="#333" font-weight="bold" text-anchor="middle">M</text>
<path d="M1632.7 173.4 L1642.2 173.4 L1642.2 184.6 L1632.7 184.6 L1636.9 179 Z" fill="#f6b24e"/>
<rect x="1690.5" y="246.1" width="153.5" height="19.2" fill="#eeeeee"/>
<rect x="1642.2" y="246.1" width="48.3" height="19.2" fill="#fff"/>
<path d="M1834.6 246.1 L1845 246.1 A9.6 9.6 0 0 1 1845 265.3 L1834.6 265.3" fill="none" stroke="#505050" stroke-width="1.6"/>
<line x1="1642.2" y1="246.1" x2="1845" y2="246.1" stroke="#505050" stroke-width="1.7"/>
<line x1="1642.2" y1="265.3" x2="1845" y2="265.3" stroke="#505050" stroke-width="1.7"/>
<line x1="1642.2" y1="245.3" x2="1642.2" y2="266.1" stroke="#505050" stroke-width="1.7"/>
<line x1="1690.5" y1="246.1" x2="1690.5" y2="265.3" stroke="#505050" stroke-width="1.7"/>
<circle cx="1844.5" cy="255.7" r="2.94" fill="none" stroke="#111" stroke-width="1.99"/>
<circle cx="1844.5" cy="251.8" r="1.09" fill="#111"/>
<circle cx="1847.87" cy="253.75" r="1.09" fill="#111"/>
<circle cx="1847.87" cy="257.65" r="1.09" fill="#111"/>
<circle cx="1844.5" cy="259.59" r="1.09" fill="#111"/>
<circle cx="1841.13" cy="257.65" r="1.09" fill="#111"/>
<circle cx="1841.13" cy="253.75" r="1.09" fill="#111"/>
<text x="1701.9" y="258.9" font-size="11.9" fill="#444444" textLength="117.4" lengthAdjust="spacingAndGlyphs">OG  Schlafen  Raffst...</text>
<text x="1666.35" y="261.9" font-size="16" fill="#333" font-weight="bold" text-anchor="middle">M</text>
<path d="M1632.7 250.1 L1642.2 250.1 L1642.2 261.3 L1632.7 261.3 L1636.9 255.7 Z" fill="#f6b24e"/>
<rect x="741.1" y="361.6" width="151.6" height="19.2" fill="#eeeeee"/>
<rect x="693.1" y="361.6" width="48" height="19.2" fill="#fff"/>
<path d="M883.3 361.6 L893.7 361.6 A9.6 9.6 0 0 1 893.7 380.8 L883.3 380.8" fill="none" stroke="#505050" stroke-width="1.6"/>
<line x1="693.1" y1="361.6" x2="893.7" y2="361.6" stroke="#505050" stroke-width="1.7"/>
<line x1="693.1" y1="380.8" x2="893.7" y2="380.8" stroke="#505050" stroke-width="1.7"/>
<line x1="693.1" y1="360.8" x2="693.1" y2="381.6" stroke="#505050" stroke-width="1.7"/>
<line x1="741.1" y1="361.6" x2="741.1" y2="380.8" stroke="#505050" stroke-width="1.7"/>
<circle cx="893.2" cy="371.2" r="2.94" fill="none" stroke="#111" stroke-width="1.99"/>
<circle cx="893.2" cy="367.31" r="1.09" fill="#111"/>
<circle cx="896.57" cy="369.25" r="1.09" fill="#111"/>
<circle cx="896.57" cy="373.15" r="1.09" fill="#111"/>
<circle cx="893.2" cy="375.1" r="1.09" fill="#111"/>
<circle cx="889.83" cy="373.15" r="1.09" fill="#111"/>
<circle cx="889.83" cy="369.25" r="1.09" fill="#111"/>
<text x="770.4" y="374.4" font-size="11.9" fill="#444444" textLength="100.7" lengthAdjust="spacingAndGlyphs">Raffstore  OG  Sc...</text>
<text x="717.1" y="377" font-size="17" fill="#333" text-anchor="middle">Q2</text>
<path d="M683.6 365.6 L693.1 365.6 L693.1 376.8 L683.6 376.8 L687.8 371.2 Z" fill="#f6b24e"/>
<rect x="741.1" y="380.8" width="151.6" height="19.2" fill="#eeeeee"/>
<rect x="693.1" y="380.8" width="48" height="19.2" fill="#fff"/>
<path d="M883.3 380.8 L893.7 380.8 A9.6 9.6 0 0 1 893.7 400 L883.3 400" fill="none" stroke="#505050" stroke-width="1.6"/>
<line x1="693.1" y1="380.8" x2="893.7" y2="380.8" stroke="#505050" stroke-width="1.7"/>
<line x1="693.1" y1="400" x2="893.7" y2="400" stroke="#505050" stroke-width="1.7"/>
<line x1="693.1" y1="380" x2="693.1" y2="400.8" stroke="#505050" stroke-width="1.7"/>
<line x1="741.1" y1="380.8" x2="741.1" y2="400" stroke="#505050" stroke-width="1.7"/>
<circle cx="893.2" cy="390.4" r="2.94" fill="none" stroke="#111" stroke-width="1.99"/>
<circle cx="893.2" cy="386.51" r="1.09" fill="#111"/>
<circle cx="896.57" cy="388.45" r="1.09" fill="#111"/>
<circle cx="896.57" cy="392.35" r="1.09" fill="#111"/>
<circle cx="893.2" cy="394.3" r="1.09" fill="#111"/>
<circle cx="889.83" cy="392.35" r="1.09" fill="#111"/>
<circle cx="889.83" cy="388.45" r="1.09" fill="#111"/>
<text x="770.4" y="393.6" font-size="11.9" fill="#444444" textLength="100.7" lengthAdjust="spacingAndGlyphs">Raffstore  OG  Sc...</text>
<text x="717.1" y="396.2" font-size="17" fill="#333" text-anchor="middle">Q1</text>
<path d="M683.6 384.8 L693.1 384.8 L693.1 396 L683.6 396 L687.8 390.4 Z" fill="#f6b24e"/>
<rect x="1335.3" y="399.3" width="152.5" height="19.2" fill="#eeeeee"/>
<rect x="1287" y="399.3" width="48.3" height="19.2" fill="#fff"/>
<path d="M1478.4 399.3 L1488.8 399.3 A9.6 9.6 0 0 1 1488.8 418.5 L1478.4 418.5" fill="none" stroke="#505050" stroke-width="1.6"/>
<line x1="1287" y1="399.3" x2="1488.8" y2="399.3" stroke="#505050" stroke-width="1.7"/>
<line x1="1287" y1="418.5" x2="1488.8" y2="418.5" stroke="#505050" stroke-width="1.7"/>
<line x1="1287" y1="398.5" x2="1287" y2="419.3" stroke="#505050" stroke-width="1.7"/>
<line x1="1335.3" y1="399.3" x2="1335.3" y2="418.5" stroke="#505050" stroke-width="1.7"/>
<circle cx="1488.3" cy="408.9" r="2.94" fill="none" stroke="#111" stroke-width="1.99"/>
<circle cx="1488.3" cy="405.01" r="1.09" fill="#111"/>
<circle cx="1491.67" cy="406.95" r="1.09" fill="#111"/>
<circle cx="1491.67" cy="410.85" r="1.09" fill="#111"/>
<circle cx="1488.3" cy="412.8" r="1.09" fill="#111"/>
<circle cx="1484.93" cy="410.85" r="1.09" fill="#111"/>
<circle cx="1484.93" cy="406.95" r="1.09" fill="#111"/>
<text x="1346.9" y="412.1" font-size="11.9" fill="#444444" textLength="119.8" lengthAdjust="spacingAndGlyphs">Beschattung  Auto-R...</text>
<text x="1311.15" y="415.1" font-size="16" fill="#333" font-weight="bold" text-anchor="middle">M</text>
<path d="M1277.5 403.3 L1287 403.3 L1287 414.5 L1277.5 414.5 L1281.7 408.9 Z" fill="#f6b24e"/>
<rect x="606" y="53.8" width="135.4" height="76.8" fill="#fff" stroke="#79c65f" stroke-width="1.5"/>
<rect x="605.25" y="24.8" width="136.9" height="29" fill="#69c04f"/>
<text x="613.3" y="42.7" font-size="16" fill="#fff" textLength="71" lengthAdjust="spacingAndGlyphs" stroke="#fff" stroke-width="0.55">Analog...</text>
<circle cx="726.2" cy="39.9" r="9.3" fill="#fff"/>
<circle cx="726.2" cy="37.3" r="1.15" fill="#111"/>
<rect x="725" y="40.1" width="2.4" height="4" fill="#111"/>
<circle cx="704.2" cy="39.9" r="9.3" fill="#fff"/>
<circle cx="704.2" cy="39.9" r="4.5" fill="#111"/>
<circle cx="704.2" cy="35.3" r="1.6" fill="#111"/>
<circle cx="708.18" cy="37.6" r="1.6" fill="#111"/>
<circle cx="708.18" cy="42.2" r="1.6" fill="#111"/>
<circle cx="704.2" cy="44.5" r="1.6" fill="#111"/>
<circle cx="700.22" cy="42.2" r="1.6" fill="#111"/>
<circle cx="700.22" cy="37.6" r="1.6" fill="#111"/>
<circle cx="704.2" cy="39.9" r="2" fill="#fff"/>
<path d="M596.5 58.4 L606 58.4 L606 69.6 L596.5 69.6 L600.7 64 Z" fill="#1cb0e2"/>
<text x="617.6" y="69.3" font-size="16.6" fill="#222222" textLength="22" lengthAdjust="spacingAndGlyphs">AI1</text>
<path d="M596.5 77.15 L606 77.15 L606 88.35 L596.5 88.35 L600.7 82.75 Z" fill="#1cb0e2"/>
<text x="617.6" y="88.05" font-size="16.6" fill="#222222" textLength="22" lengthAdjust="spacingAndGlyphs">AI2</text>
<path d="M596.5 95.9 L606 95.9 L606 107.1 L596.5 107.1 L600.7 101.5 Z" fill="#1cb0e2"/>
<text x="617.6" y="106.8" font-size="16.6" fill="#222222">Dis</text>
<path d="M596.5 114.65 L606 114.65 L606 125.85 L596.5 125.85 L600.7 120.25 Z" fill="#1cb0e2"/>
<text x="617.6" y="125.55" font-size="16.6" fill="#222222">S</text>
<text x="727.4" y="69.3" font-size="16.6" fill="#222222" text-anchor="end">AQ</text>
<path d="M741.4 58.4 L746 58.4 Q747.6 59 750.2 64 Q747.6 69 746 69.6 L741.4 69.6 Z" fill="#63b950"/>
<rect x="376.2" y="207" width="134.5" height="38.9" fill="#fff" stroke="#79c65f" stroke-width="1.5"/>
<rect x="375.45" y="178" width="136" height="29" fill="#69c04f"/>
<text x="383.5" y="197.1" font-size="16" fill="#fff" textLength="72" lengthAdjust="spacingAndGlyphs" stroke="#fff" stroke-width="0.55">Multipli...</text>
<circle cx="495.5" cy="193.5" r="9.3" fill="#fff"/>
<circle cx="495.5" cy="190.9" r="1.15" fill="#111"/>
<rect x="494.3" y="193.7" width="2.4" height="4" fill="#111"/>
<circle cx="473.5" cy="193.5" r="9.3" fill="#fff"/>
<circle cx="473.5" cy="193.5" r="4.5" fill="#111"/>
<circle cx="473.5" cy="188.9" r="1.6" fill="#111"/>
<circle cx="477.48" cy="191.2" r="1.6" fill="#111"/>
<circle cx="477.48" cy="195.8" r="1.6" fill="#111"/>
<circle cx="473.5" cy="198.1" r="1.6" fill="#111"/>
<circle cx="469.52" cy="195.8" r="1.6" fill="#111"/>
<circle cx="469.52" cy="191.2" r="1.6" fill="#111"/>
<circle cx="473.5" cy="193.5" r="2" fill="#fff"/>
<path d="M366.7 211.6 L376.2 211.6 L376.2 222.8 L366.7 222.8 L370.9 217.2 Z" fill="#1cb0e2"/>
<text x="387.8" y="222.5" font-size="16.6" fill="#222222" textLength="22" lengthAdjust="spacingAndGlyphs">AI1</text>
<path d="M366.7 230.9 L376.2 230.9 L376.2 242.1 L366.7 242.1 L370.9 236.5 Z" fill="#1cb0e2"/>
<text x="387.8" y="241.8" font-size="16.6" fill="#222222" textLength="22" lengthAdjust="spacingAndGlyphs">AI2</text>
<text x="496.7" y="222.5" font-size="16.6" fill="#222222" text-anchor="end">AQ</text>
<path d="M510.7 211.6 L515.3 211.6 Q516.9 212.2 519.5 217.2 Q516.9 222.2 515.3 222.8 L510.7 222.8 Z" fill="#63b950"/>
<rect x="865.4" y="189.3" width="134.6" height="56.7" fill="#fff" stroke="#79c65f" stroke-width="1.5"/>
<rect x="864.65" y="160.3" width="136.1" height="29" fill="#69c04f"/>
<text x="872.7" y="177.7" font-size="16" fill="#fff" textLength="70" lengthAdjust="spacingAndGlyphs" stroke="#fff" stroke-width="0.55">Verzög...</text>
<circle cx="984.8" cy="174.4" r="9.3" fill="#fff"/>
<circle cx="984.8" cy="171.8" r="1.15" fill="#111"/>
<rect x="983.6" y="174.6" width="2.4" height="4" fill="#111"/>
<circle cx="962.8" cy="174.4" r="9.3" fill="#fff"/>
<circle cx="962.8" cy="174.4" r="4.5" fill="#111"/>
<circle cx="962.8" cy="169.8" r="1.6" fill="#111"/>
<circle cx="966.78" cy="172.1" r="1.6" fill="#111"/>
<circle cx="966.78" cy="176.7" r="1.6" fill="#111"/>
<circle cx="962.8" cy="179" r="1.6" fill="#111"/>
<circle cx="958.82" cy="176.7" r="1.6" fill="#111"/>
<circle cx="958.82" cy="172.1" r="1.6" fill="#111"/>
<circle cx="962.8" cy="174.4" r="2" fill="#fff"/>
<path d="M855.9 191.9 L865.4 191.9 L865.4 203.1 L855.9 203.1 L860.1 197.5 Z" fill="#f6b24e"/>
<text x="877" y="202.8" font-size="16.6" fill="#222222">Tr</text>
<path d="M855.9 211.2 L865.4 211.2 L865.4 222.4 L855.9 222.4 L860.1 216.8 Z" fill="#1cb0e2"/>
<text x="877" y="222.1" font-size="16.6" fill="#222222">D</text>
<path d="M855.9 230.2 L865.4 230.2 L865.4 241.4 L855.9 241.4 L860.1 235.8 Z" fill="#d5d5d0"/>
<circle cx="882" cy="235.8" r="6.3" fill="#a3a3a3"/>
<line x1="878" y1="235.8" x2="886" y2="235.8" stroke="#fff" stroke-width="1.6"/>
<line x1="882" y1="231.8" x2="882" y2="239.8" stroke="#fff" stroke-width="1.6"/>
<text x="986" y="202.8" font-size="16.6" fill="#222222" text-anchor="end">Q</text>
<path d="M1000 191.9 L1004.6 191.9 Q1006.2 192.5 1008.8 197.5 Q1006.2 202.5 1004.6 203.1 L1000 203.1 Z" fill="#63b950"/>
<rect x="1124.6" y="169.5" width="134.7" height="38.7" fill="#fff" stroke="#79c65f" stroke-width="1.5"/>
<rect x="1123.85" y="140.5" width="136.2" height="29" fill="#69c04f"/>
<text x="1131.9" y="158.1" font-size="16" fill="#fff" textLength="69" lengthAdjust="spacingAndGlyphs" stroke="#fff" stroke-width="0.55">noch k...</text>
<circle cx="1244.1" cy="154.9" r="9.3" fill="#fff"/>
<circle cx="1244.1" cy="152.3" r="1.15" fill="#111"/>
<rect x="1242.9" y="155.1" width="2.4" height="4" fill="#111"/>
<circle cx="1222.1" cy="154.9" r="9.3" fill="#fff"/>
<circle cx="1222.1" cy="154.9" r="4.5" fill="#111"/>
<circle cx="1222.1" cy="150.3" r="1.6" fill="#111"/>
<circle cx="1226.08" cy="152.6" r="1.6" fill="#111"/>
<circle cx="1226.08" cy="157.2" r="1.6" fill="#111"/>
<circle cx="1222.1" cy="159.5" r="1.6" fill="#111"/>
<circle cx="1218.12" cy="157.2" r="1.6" fill="#111"/>
<circle cx="1218.12" cy="152.6" r="1.6" fill="#111"/>
<circle cx="1222.1" cy="154.9" r="2" fill="#fff"/>
<path d="M1115.1 173.3 L1124.6 173.3 L1124.6 184.5 L1115.1 184.5 L1119.3 178.9 Z" fill="#f6b24e"/>
<circle cx="1123.1" cy="178.9" r="2.3" fill="#fff" stroke="#222" stroke-width="1.2"/>
<text x="1136.2" y="184.2" font-size="16.6" fill="#f01c2c">I1</text>
<path d="M1115.1 192 L1124.6 192 L1124.6 203.2 L1115.1 203.2 L1119.3 197.6 Z" fill="#f6b24e"/>
<text x="1136.2" y="202.9" font-size="16.6" fill="#222222">I2</text>
<text x="1191.6" y="184.3" font-size="16.6" fill="#8a8a9a" text-anchor="middle">UND</text>
<text x="1245.3" y="184.2" font-size="16.6" fill="#222222" text-anchor="end">Q</text>
<path d="M1259.3 173.3 L1263.9 173.3 Q1265.5 173.9 1268.1 178.9 Q1265.5 183.9 1263.9 184.5 L1259.3 184.5 Z" fill="#63b950"/>
<rect x="1124.6" y="246.3" width="134.7" height="37.9" fill="#fff" stroke="#79c65f" stroke-width="1.5"/>
<rect x="1123.85" y="217.3" width="136.2" height="29" fill="#69c04f"/>
<text x="1131.9" y="234.7" font-size="16" fill="#fff" textLength="69" lengthAdjust="spacingAndGlyphs" stroke="#fff" stroke-width="0.55">bereits...</text>
<circle cx="1244.1" cy="231.9" r="9.3" fill="#fff"/>
<circle cx="1244.1" cy="229.3" r="1.15" fill="#111"/>
<rect x="1242.9" y="232.1" width="2.4" height="4" fill="#111"/>
<circle cx="1222.1" cy="231.9" r="9.3" fill="#fff"/>
<circle cx="1222.1" cy="231.9" r="4.5" fill="#111"/>
<circle cx="1222.1" cy="227.3" r="1.6" fill="#111"/>
<circle cx="1226.08" cy="229.6" r="1.6" fill="#111"/>
<circle cx="1226.08" cy="234.2" r="1.6" fill="#111"/>
<circle cx="1222.1" cy="236.5" r="1.6" fill="#111"/>
<circle cx="1218.12" cy="234.2" r="1.6" fill="#111"/>
<circle cx="1218.12" cy="229.6" r="1.6" fill="#111"/>
<circle cx="1222.1" cy="231.9" r="2" fill="#fff"/>
<path d="M1115.1 249.8 L1124.6 249.8 L1124.6 261 L1115.1 261 L1119.3 255.4 Z" fill="#f6b24e"/>
<text x="1136.2" y="260.7" font-size="16.6" fill="#222222">I1</text>
<path d="M1115.1 269 L1124.6 269 L1124.6 280.2 L1115.1 280.2 L1119.3 274.6 Z" fill="#f6b24e"/>
<text x="1136.2" y="279.9" font-size="16.6" fill="#222222">I2</text>
<text x="1191.6" y="260.8" font-size="16.6" fill="#8a8a9a" text-anchor="middle">UND</text>
<text x="1245.3" y="260.7" font-size="16.6" fill="#222222" text-anchor="end">Q</text>
<path d="M1259.3 249.8 L1263.9 249.8 Q1265.5 250.4 1268.1 255.4 Q1265.5 260.4 1263.9 261 L1259.3 261 Z" fill="#63b950"/>
<rect x="1345.3" y="169.6" width="134.7" height="38.7" fill="#fff" stroke="#79c65f" stroke-width="1.5"/>
<rect x="1344.55" y="140.6" width="136.2" height="29" fill="#69c04f"/>
<text x="1352.6" y="160.7" font-size="16" fill="#fff" textLength="75" lengthAdjust="spacingAndGlyphs" stroke="#fff" stroke-width="0.55">Monoflop</text>
<circle cx="1464.8" cy="155" r="9.3" fill="#fff"/>
<circle cx="1464.8" cy="152.4" r="1.15" fill="#111"/>
<rect x="1463.6" y="155.2" width="2.4" height="4" fill="#111"/>
<circle cx="1442.8" cy="155" r="9.3" fill="#fff"/>
<circle cx="1442.8" cy="155" r="4.5" fill="#111"/>
<circle cx="1442.8" cy="150.4" r="1.6" fill="#111"/>
<circle cx="1446.78" cy="152.7" r="1.6" fill="#111"/>
<circle cx="1446.78" cy="157.3" r="1.6" fill="#111"/>
<circle cx="1442.8" cy="159.6" r="1.6" fill="#111"/>
<circle cx="1438.82" cy="157.3" r="1.6" fill="#111"/>
<circle cx="1438.82" cy="152.7" r="1.6" fill="#111"/>
<circle cx="1442.8" cy="155" r="2" fill="#fff"/>
<path d="M1335.8 173.4 L1345.3 173.4 L1345.3 184.6 L1335.8 184.6 L1340 179 Z" fill="#f6b24e"/>
<text x="1356.9" y="184.3" font-size="16.6" fill="#222222">Tr</text>
<path d="M1335.8 192.2 L1345.3 192.2 L1345.3 203.4 L1335.8 203.4 L1340 197.8 Z" fill="#d5d5d0"/>
<circle cx="1361.9" cy="197.8" r="6.3" fill="#a3a3a3"/>
<line x1="1357.9" y1="197.8" x2="1365.9" y2="197.8" stroke="#fff" stroke-width="1.6"/>
<line x1="1361.9" y1="193.8" x2="1361.9" y2="201.8" stroke="#fff" stroke-width="1.6"/>
<text x="1466" y="184.3" font-size="16.6" fill="#222222" text-anchor="end">Q</text>
<path d="M1480 173.4 L1484.6 173.4 Q1486.2 174 1488.8 179 Q1486.2 184 1484.6 184.6 L1480 184.6 Z" fill="#63b950"/>
<rect x="981.1" y="398.8" width="133.9" height="78.4" fill="#fff" stroke="#79c65f" stroke-width="1.5"/>
<rect x="980.35" y="369.8" width="135.4" height="29" fill="#69c04f"/>
<text x="988.4" y="389.1" font-size="16" fill="#fff" textLength="70" lengthAdjust="spacingAndGlyphs" stroke="#fff" stroke-width="0.55">Trigger...</text>
<circle cx="1099.8" cy="385.2" r="9.3" fill="#fff"/>
<circle cx="1099.8" cy="382.6" r="1.15" fill="#111"/>
<rect x="1098.6" y="385.4" width="2.4" height="4" fill="#111"/>
<circle cx="1077.8" cy="385.2" r="9.3" fill="#fff"/>
<circle cx="1077.8" cy="385.2" r="4.5" fill="#111"/>
<circle cx="1077.8" cy="380.6" r="1.6" fill="#111"/>
<circle cx="1081.78" cy="382.9" r="1.6" fill="#111"/>
<circle cx="1081.78" cy="387.5" r="1.6" fill="#111"/>
<circle cx="1077.8" cy="389.8" r="1.6" fill="#111"/>
<circle cx="1073.82" cy="387.5" r="1.6" fill="#111"/>
<circle cx="1073.82" cy="382.9" r="1.6" fill="#111"/>
<circle cx="1077.8" cy="385.2" r="2" fill="#fff"/>
<path d="M971.6 403.3 L981.1 403.3 L981.1 414.5 L971.6 414.5 L975.8 408.9 Z" fill="#f6b24e"/>
<circle cx="979.6" cy="408.9" r="2.3" fill="#fff" stroke="#222" stroke-width="1.2"/>
<text x="992.7" y="414.2" font-size="16.6" fill="#f01c2c">Tr</text>
<path d="M971.6 422.7 L981.1 422.7 L981.1 433.9 L971.6 433.9 L975.8 428.3 Z" fill="#f6b24e"/>
<text x="992.7" y="433.6" font-size="16.6" fill="#222222">R</text>
<path d="M971.6 442 L981.1 442 L981.1 453.2 L971.6 453.2 L975.8 447.6 Z" fill="#1cb0e2"/>
<text x="992.7" y="452.9" font-size="16.6" fill="#222222">D</text>
<path d="M971.6 461 L981.1 461 L981.1 472.2 L971.6 472.2 L975.8 466.6 Z" fill="#d5d5d0"/>
<circle cx="997.7" cy="466.6" r="6.3" fill="#a3a3a3"/>
<line x1="993.7" y1="466.6" x2="1001.7" y2="466.6" stroke="#fff" stroke-width="1.6"/>
<line x1="997.7" y1="462.6" x2="997.7" y2="470.6" stroke="#fff" stroke-width="1.6"/>
<text x="1024.7" y="414.3" font-size="16.6" fill="#8a8a9a" textLength="47.5" lengthAdjust="spacingAndGlyphs">Verz...</text>
<text x="1101" y="414.2" font-size="16.6" fill="#222222" text-anchor="end">Q</text>
<path d="M1115 403.3 L1119.6 403.3 Q1121.2 403.9 1123.8 408.9 Q1121.2 413.9 1119.6 414.5 L1115 414.5 Z" fill="#63b950"/>
<rect x="328.4" y="341.6" width="269.3" height="268.6" fill="#fff" stroke="#79c65f" stroke-width="1.5"/>
<rect x="329.15" y="341.6" width="267.8" height="19.3" fill="#eeeeee"/>
<rect x="327.65" y="313" width="270.8" height="28.6" fill="#69c04f"/>
<text x="335.9" y="333.4" font-size="16" fill="#fff" textLength="183" lengthAdjust="spacingAndGlyphs" stroke="#fff" stroke-width="0.55">Raffstore Schlafen Süd</text>
<circle cx="582.5" cy="327.7" r="9.3" fill="#fff"/>
<circle cx="582.5" cy="325.1" r="1.15" fill="#111"/>
<rect x="581.3" y="327.9" width="2.4" height="4" fill="#111"/>
<circle cx="560.5" cy="327.7" r="9.3" fill="#fff"/>
<circle cx="560.5" cy="327.7" r="4.5" fill="#111"/>
<circle cx="560.5" cy="323.1" r="1.6" fill="#111"/>
<circle cx="564.48" cy="325.4" r="1.6" fill="#111"/>
<circle cx="564.48" cy="330" r="1.6" fill="#111"/>
<circle cx="560.5" cy="332.3" r="1.6" fill="#111"/>
<circle cx="556.52" cy="330" r="1.6" fill="#111"/>
<circle cx="556.52" cy="325.4" r="1.6" fill="#111"/>
<circle cx="560.5" cy="327.7" r="2" fill="#fff"/>
<circle cx="538.3" cy="327.7" r="9.3" fill="#fff"/>
<circle cx="538.3" cy="327.7" r="1.3" fill="#7cc86a"/>
<circle cx="543.5" cy="327.7" r="0.9" fill="#7cc86a"/>
<circle cx="533.1" cy="327.7" r="0.9" fill="#7cc86a"/>
<circle cx="538.3" cy="332.9" r="0.9" fill="#7cc86a"/>
<circle cx="538.3" cy="322.5" r="0.9" fill="#7cc86a"/>
<text x="462.5" y="357.5" font-size="16.6" fill="#333" text-anchor="middle" textLength="131" lengthAdjust="spacingAndGlyphs">Automatikjalousie</text>
<text x="462.5" y="376.8" font-size="16.6" fill="#8a8a9a" text-anchor="middle" textLength="101" lengthAdjust="spacingAndGlyphs">Schlafzimmer</text>
<text x="462.5" y="394.8" font-size="16.6" fill="#8a8a9a" text-anchor="middle" textLength="64" lengthAdjust="spacingAndGlyphs">Jalousie</text>
<path d="M318.9 366 L328.4 366 L328.4 377.2 L318.9 377.2 L323.1 371.6 Z" fill="#f6b24e"/>
<text x="340" y="376.9" font-size="16.6" fill="#222222">Up</text>
<path d="M318.9 404.16 L328.4 404.16 L328.4 415.36 L318.9 415.36 L323.1 409.76 Z" fill="#f6b24e"/>
<text x="340" y="415.06" font-size="16.6" fill="#222222">Dw</text>
<path d="M318.9 442.32 L328.4 442.32 L328.4 453.52 L318.9 453.52 L323.1 447.92 Z" fill="#f6b24e"/>
<text x="340" y="453.22" font-size="16.6" fill="#222222">Cu</text>
<path d="M318.9 480.48 L328.4 480.48 L328.4 491.68 L318.9 491.68 L323.1 486.08 Z" fill="#f6b24e"/>
<text x="340" y="491.38" font-size="16.6" fill="#222222">Cd</text>
<path d="M318.9 499.56 L328.4 499.56 L328.4 510.76 L318.9 510.76 L323.1 505.16 Z" fill="#f6b24e"/>
<text x="340" y="510.46" font-size="16.6" fill="#222222">AS</text>
<path d="M318.9 518.64 L328.4 518.64 L328.4 529.84 L318.9 529.84 L323.1 524.24 Z" fill="#f6b24e"/>
<text x="340" y="529.54" font-size="16.6" fill="#222222">AR</text>
<path d="M318.9 556.8 L328.4 556.8 L328.4 568 L318.9 568 L323.1 562.4 Z" fill="#f6b24e"/>
<text x="340" y="567.7" font-size="16.6" fill="#222222">Sp</text>
<path d="M318.9 575.88 L328.4 575.88 L328.4 587.08 L318.9 587.08 L323.1 581.48 Z" fill="#f6b24e"/>
<text x="340" y="586.78" font-size="16.6" fill="#222222">All</text>
<path d="M318.9 594.96 L328.4 594.96 L328.4 606.16 L318.9 606.16 L323.1 600.56 Z" fill="#d5d5d0"/>
<circle cx="345" cy="600.56" r="6.3" fill="#a3a3a3"/>
<line x1="341" y1="600.56" x2="349" y2="600.56" stroke="#fff" stroke-width="1.6"/>
<line x1="345" y1="596.56" x2="345" y2="604.56" stroke="#fff" stroke-width="1.6"/>
<text x="562" y="376.6" font-size="16.6" fill="#222222">Q</text>
<line x1="579.7" y1="376.6" x2="579.7" y2="365.6" stroke="#e8a0a8" stroke-width="1.1"/>
<path d="M576.9 368.6 L579.7 365.1 L582.5 368.6" fill="none" stroke="#222" stroke-width="1.2"/>
<path d="M597.7 366 L602.3 366 Q603.9 366.6 606.5 371.6 Q603.9 376.6 602.3 377.2 L597.7 377.2 Z" fill="#63b950"/>
<text x="562" y="395.68" font-size="16.6" fill="#222222">Q</text>
<line x1="579.7" y1="384.68" x2="579.7" y2="395.68" stroke="#e8a0a8" stroke-width="1.1"/>
<path d="M597.7 385.08 L602.3 385.08 Q603.9 385.68 606.5 390.68 Q603.9 395.68 602.3 396.28 L597.7 396.28 Z" fill="#63b950"/>
<text x="562" y="414.76" font-size="16.6" fill="#222222">Qa</text>
<path d="M597.7 404.16 L602.3 404.16 Q603.9 404.76 606.5 409.76 Q603.9 414.76 602.3 415.36 L597.7 415.36 Z" fill="#63b950"/>
<circle cx="580.2" cy="428.84" r="6.3" fill="#a3a3a3"/>
<line x1="576.2" y1="428.84" x2="584.2" y2="428.84" stroke="#fff" stroke-width="1.6"/>
<line x1="580.2" y1="424.84" x2="580.2" y2="432.84" stroke="#fff" stroke-width="1.6"/>
<path d="M597.7 423.24 L602.3 423.24 Q603.9 423.84 606.5 428.84 Q603.9 433.84 602.3 434.44 L597.7 434.44 Z" fill="#d9d9d5"/>
<path d="M241 64.4 L601 64.4" fill="none" stroke="#8a0c0c" stroke-width="1.8"/>
<text x="245" y="61.5" font-size="12.2" fill="#1a1a1a" textLength="22" lengthAdjust="spacingAndGlyphs">50,0</text>
<text x="592" y="60.8" font-size="12.2" fill="#1a1a1a" text-anchor="end" textLength="12" lengthAdjust="spacingAndGlyphs">50</text>
<path d="M241 82.4 L601 82.4" fill="none" stroke="#8a0c0c" stroke-width="1.8"/>
<text x="245" y="79.8" font-size="12.2" fill="#1a1a1a" textLength="6.5" lengthAdjust="spacingAndGlyphs">0</text>
<text x="592" y="79.8" font-size="12.2" fill="#1a1a1a" text-anchor="end" textLength="6.5" lengthAdjust="spacingAndGlyphs">0</text>
<text x="592" y="99.5" font-size="12.2" fill="#1a1a1a" text-anchor="end" textLength="20" lengthAdjust="spacingAndGlyphs">Aus</text>
<path d="M241 120.8 L601 120.8" fill="none" stroke="#3e3e3e" stroke-width="2.6"/>
<path d="M548.2 120.8 L548.2 193 Q548.2 198 553.2 198 L861 198" fill="none" stroke="#3e3e3e" stroke-width="2.6"/>
<text x="592" y="118" font-size="12.2" fill="#1a1a1a" text-anchor="end" textLength="20" lengthAdjust="spacingAndGlyphs">Aus</text>
<text x="851" y="194.5" font-size="12.2" fill="#1a1a1a" text-anchor="end" textLength="20" lengthAdjust="spacingAndGlyphs">Aus</text>
<path d="M750 64.2 L868 64.2" fill="none" stroke="#8a0c0c" stroke-width="1.8"/>
<text x="754" y="61" font-size="12.2" fill="#1a1a1a" textLength="12" lengthAdjust="spacingAndGlyphs">50</text>
<text x="862" y="61" font-size="12.2" fill="#1a1a1a" text-anchor="end" textLength="22" lengthAdjust="spacingAndGlyphs">50,0</text>
<path d="M241 217.4 L371 217.4" fill="none" stroke="#8a0c0c" stroke-width="1.8"/>
<text x="245" y="214.5" font-size="12.2" fill="#1a1a1a" textLength="34" lengthAdjust="spacingAndGlyphs">30 min</text>
<text x="362" y="214.5" font-size="12.2" fill="#1a1a1a" text-anchor="end" textLength="12" lengthAdjust="spacingAndGlyphs">30</text>
<path d="M241 236.6 L371 236.6" fill="none" stroke="#8a0c0c" stroke-width="1.8"/>
<text x="245" y="233.5" font-size="12.2" fill="#1a1a1a" textLength="12" lengthAdjust="spacingAndGlyphs">60</text>
<text x="362" y="233.5" font-size="12.2" fill="#1a1a1a" text-anchor="end" textLength="12" lengthAdjust="spacingAndGlyphs">60</text>
<path d="M519 217.5 L861 217.5" fill="none" stroke="#8a0c0c" stroke-width="1.8"/>
<text x="524" y="214.5" font-size="12.2" fill="#1a1a1a" textLength="24" lengthAdjust="spacingAndGlyphs">1800</text>
<text x="851" y="214" font-size="12.2" fill="#1a1a1a" text-anchor="end" textLength="24" lengthAdjust="spacingAndGlyphs">1800</text>
<path d="M1008.8 140.2 L1054.8 140.2 Q1057.8 140.2 1057.8 143.2 L1057.8 175.9 Q1057.8 178.9 1060.8 178.9 L1118 178.9" fill="none" stroke="#555555" stroke-width="1.8"/>
<text x="1110" y="176" font-size="12.2" fill="#ee1111" text-anchor="end" textLength="17" lengthAdjust="spacingAndGlyphs">Ein</text>
<path d="M1008.8 197.5 L1120 197.5" fill="none" stroke="#555555" stroke-width="1.8"/>
<path d="M1057.8 197.5 L1057.8 252.4 Q1057.8 255.4 1060.8 255.4 L1120 255.4" fill="none" stroke="#555555" stroke-width="1.8"/>
<text x="1013" y="194.5" font-size="12.2" fill="#1a1a1a" textLength="20" lengthAdjust="spacingAndGlyphs">Aus</text>
<text x="1110" y="194.5" font-size="12.2" fill="#1a1a1a" text-anchor="end" textLength="20" lengthAdjust="spacingAndGlyphs">Aus</text>
<text x="1110" y="252.5" font-size="12.2" fill="#1a1a1a" text-anchor="end" textLength="20" lengthAdjust="spacingAndGlyphs">Aus</text>
<path d="M1008.8 274.9 L1120 274.9" fill="none" stroke="#555555" stroke-width="1.8"/>
<text x="1110" y="271.5" font-size="12.2" fill="#1a1a1a" text-anchor="end" textLength="20" lengthAdjust="spacingAndGlyphs">Aus</text>
<path d="M1268 178.9 L1340 178.9" fill="none" stroke="#555555" stroke-width="1.8"/>
<text x="1273" y="176" font-size="12.2" fill="#1a1a1a" textLength="20" lengthAdjust="spacingAndGlyphs">Aus</text>
<text x="1330" y="176" font-size="12.2" fill="#1a1a1a" text-anchor="end" textLength="20" lengthAdjust="spacingAndGlyphs">Aus</text>
<path d="M1489 179 L1637 179" fill="none" stroke="#555555" stroke-width="1.8"/>
<text x="1494" y="176" font-size="12.2" fill="#1a1a1a" textLength="20" lengthAdjust="spacingAndGlyphs">Aus</text>
<path d="M1268 255.2 L1637 255.2" fill="none" stroke="#555555" stroke-width="1.8"/>
<text x="1273" y="252.5" font-size="12.2" fill="#1a1a1a" textLength="20" lengthAdjust="spacingAndGlyphs">Aus</text>
<path d="M1536 236.8 L1582.8 236.8 Q1585.8 236.8 1585.8 239.8 L1585.8 271.6 Q1585.8 274.6 1582.8 274.6 L1536 274.6" fill="none" stroke="#555555" stroke-width="1.8"/>
<path d="M241 371.4 L323 371.4" fill="none" stroke="#555555" stroke-width="1.8"/>
<path d="M241 390.55 L277 390.55 Q280 390.55 280 387.55 L280 371.4" fill="none" stroke="#555555" stroke-width="1.8"/>
<path d="M241 409.7 L323 409.7" fill="none" stroke="#555555" stroke-width="1.8"/>
<path d="M241 428.85 L277 428.85 Q280 428.85 280 425.85 L280 409.7" fill="none" stroke="#555555" stroke-width="1.8"/>
<path d="M241 448 L323 448" fill="none" stroke="#555555" stroke-width="1.8"/>
<path d="M241 467.15 L277 467.15 Q280 467.15 280 464.15 L280 448" fill="none" stroke="#555555" stroke-width="1.8"/>
<path d="M241 486.08 L323 486.08" fill="none" stroke="#555555" stroke-width="1.8"/>
<path d="M241 505.16 L323 505.16" fill="none" stroke="#555555" stroke-width="1.8"/>
<path d="M241 524.6 L323 524.6" fill="none" stroke="#555555" stroke-width="1.8"/>
<path d="M241 543.75 L277 543.75 Q280 543.75 280 540.75 L280 524.6" fill="none" stroke="#555555" stroke-width="1.8"/>
<path d="M241 562.4 L323 562.4" fill="none" stroke="#555555" stroke-width="1.8"/>
<path d="M241 581.48 L323 581.48" fill="none" stroke="#8a0c0c" stroke-width="1.8"/>
<text x="313" y="368.6" font-size="12.2" fill="#1a1a1a" text-anchor="end" textLength="20" lengthAdjust="spacingAndGlyphs">Aus</text>
<text x="313" y="406.76" font-size="12.2" fill="#1a1a1a" text-anchor="end" textLength="20" lengthAdjust="spacingAndGlyphs">Aus</text>
<text x="313" y="444.92" font-size="12.2" fill="#1a1a1a" text-anchor="end" textLength="20" lengthAdjust="spacingAndGlyphs">Aus</text>
<text x="313" y="483.08" font-size="12.2" fill="#1a1a1a" text-anchor="end" textLength="20" lengthAdjust="spacingAndGlyphs">Aus</text>
<text x="313" y="502.16" font-size="12.2" fill="#1a1a1a" text-anchor="end" textLength="20" lengthAdjust="spacingAndGlyphs">Aus</text>
<text x="313" y="521.24" font-size="12.2" fill="#1a1a1a" text-anchor="end" textLength="20" lengthAdjust="spacingAndGlyphs">Aus</text>
<text x="313" y="559.4" font-size="12.2" fill="#1a1a1a" text-anchor="end" textLength="20" lengthAdjust="spacingAndGlyphs">Aus</text>
<text x="245" y="578.48" font-size="12.2" fill="#1a1a1a" textLength="22" lengthAdjust="spacingAndGlyphs">50,0</text>
<text x="313" y="578.48" font-size="12.2" fill="#1a1a1a" text-anchor="end" textLength="22" lengthAdjust="spacingAndGlyphs">50,0</text>
<path d="M606.5 371.6 L688 371.6" fill="none" stroke="#555555" stroke-width="1.8"/>
<path d="M606.5 390.68 L688 390.68" fill="none" stroke="#555555" stroke-width="1.8"/>
<path d="M606.5 409.76 L976 409.76" fill="none" stroke="#555555" stroke-width="1.8"/>
<text x="610" y="369.1" font-size="12.2" fill="#1a1a1a" textLength="20" lengthAdjust="spacingAndGlyphs">Aus</text>
<text x="610" y="388.18" font-size="12.2" fill="#1a1a1a" textLength="20" lengthAdjust="spacingAndGlyphs">Aus</text>
<text x="610" y="407.26" font-size="12.2" fill="#1a1a1a" textLength="20" lengthAdjust="spacingAndGlyphs">Aus</text>
<text x="966" y="406" font-size="12.2" fill="#ee1111" text-anchor="end" textLength="17" lengthAdjust="spacingAndGlyphs">Ein</text>
<path d="M912 428 L976 428" fill="none" stroke="#555555" stroke-width="1.8"/>
<text x="966" y="425" font-size="12.2" fill="#1a1a1a" text-anchor="end" textLength="20" lengthAdjust="spacingAndGlyphs">Aus</text>
<path d="M912 447.4 L976 447.4" fill="none" stroke="#8a0c0c" stroke-width="1.8"/>
<text x="920" y="444.5" font-size="12.2" fill="#445" textLength="11" lengthAdjust="spacingAndGlyphs">---</text>
<text x="966" y="444.5" font-size="12.2" fill="#1a1a1a" text-anchor="end" textLength="24" lengthAdjust="spacingAndGlyphs">1800</text>
<path d="M1124 408.9 L1282 408.9" fill="none" stroke="#555555" stroke-width="1.8"/>
<text x="1128" y="406" font-size="12.2" fill="#1a1a1a" textLength="20" lengthAdjust="spacingAndGlyphs">Aus</text>
<path d="M1147.71 70.01 L1148.09 68.2 L1148.59 66.4 L1149.21 64.61 L1149.95 62.83 L1150.81 61.05 L1151.79 59.3 L1152.89 57.56 L1154.11 55.84 L1155.44 54.14 L1156.89 52.45 L1158.44 50.8 L1160.11 49.17 L1161.89 47.56 L1163.78 45.99 L1165.77 44.44 L1167.87 42.93 L1170.07 41.45 L1172.36 40 L1174.75 38.59 L1177.24 37.22 L1179.82 35.89 L1182.48 34.6 L1185.23 33.35 L1188.07 32.15 L1190.98 30.99 L1193.97 29.87 L1197.04 28.81 L1200.17 27.79 L1203.37 26.82 L1206.64 25.9 L1209.97 25.04 L1213.35 24.22 L1216.78 23.46 L1220.27 22.76 L1223.8 22.1 L1227.37 21.51 L1230.99 20.97 L1234.63 20.48 L1238.31 20.06 L1242.01 19.69 L1245.74 19.38 L1249.49 19.12 L1253.25 18.93 L1257.02 18.79 L1260.8 18.72 L1264.58 18.7 L1268.37 18.74 L1272.14 18.84 L1275.91 19 L1279.67 19.22 L1283.41 19.5 L1287.12 19.83 L1290.82 20.23 L1294.48 20.68 L1298.12 21.18 L1301.71 21.75 L1305.27 22.37 L1308.78 23.04 L1312.25 23.77 L1315.66 24.55 L1319.02 25.39 L1322.32 26.28 L1325.56 27.22 L1328.74 28.21 L1331.84 29.24 L1334.88 30.33 L1337.84 31.46 L1340.72 32.64 L1343.52 33.86 L1346.23 35.13 L1348.86 36.44 L1351.4 37.78 L1353.85 39.17 L1356.2 40.59 L1358.46 42.05 L1360.61 43.55 L1362.67 45.08 L1364.61 46.64 L1366.46 48.22 L1368.19 49.84 L1369.81 51.48 L1371.33 53.15 L1372.73 54.84 L1374.01 56.55 L1375.18 58.28 L1376.23 60.02 L1377.16 61.79 L1377.97 63.56 L1378.66 65.35 L1379.24 67.15 L1379.69 68.95 L1380.01 70.77 L1380.22 72.58 L1380.3 74.4 L1380.26 76.22 L1380.09 78.03 L1379.81 79.85 L1379.4 81.66 L1378.87 83.46 L1378.22 85.25 L1377.44 87.03 L1376.55 88.79 L1375.54 90.55 L1374.41 92.28 L1373.16 94 L1371.8 95.7 L1370.33 97.37 L1368.74 99.02 L1367.04 100.65 L1365.24 102.24 L1363.32 103.81 L1361.3 105.35 L1359.18 106.85 L1356.96 108.33 L1354.64 109.76 L1352.22 111.16 L1349.71 112.52 L1347.11 113.84 L1344.43 115.12 L1341.65 116.36 L1338.8 117.55 L1335.86 118.7 L1332.85 119.8 L1329.77 120.86 L1326.62 121.86 L1323.4 122.82 L1320.12 123.72 L1316.78 124.57 L1313.38 125.38 L1309.93 126.12 L1306.44 126.82 L1302.89 127.45 L1299.31 128.04 L1295.69 128.56 L1292.03 129.03 L1288.35 129.44 L1284.64 129.8 L1280.91 130.09 L1277.16 130.33 L1273.39 130.51 L1269.62 130.63 L1265.84 130.69 L1262.05 130.69 L1258.27 130.64 L1254.5 130.52 L1250.73 130.35 L1246.98 130.11 L1243.25 129.82 L1239.53 129.47 L1235.85 129.06 L1232.19 128.6 L1228.57 128.08 L1224.98 127.5 L1221.43 126.87 L1217.93 126.18 L1214.48 125.43 L1211.08 124.64 L1207.73 123.79 L1204.45 122.89 L1201.22 121.94 L1198.07 120.93 L1194.98 119.88 L1191.96 118.79 L1189.02 117.64 L1186.16 116.45 L1183.38 115.22 L1180.69 113.94 L1178.08 112.62 L1175.57 111.27 L1173.14 109.87 L1170.81 108.44 L1168.58 106.97 L1166.46 105.46 L1164.43 103.93 L1162.51 102.36 L1160.69 100.77 L1158.99 99.14 L1157.39 97.5 L1155.91 95.82 L1154.54 94.13 L736.9 112.9 Z" fill="#e4e4e4" stroke="#00ee00" stroke-width="4.2" stroke-linejoin="miter" stroke-miterlimit="30"/>
<text x="1262.9" y="68.5" font-size="19" fill="#111" text-anchor="middle" textLength="120" lengthAdjust="spacingAndGlyphs">erzeugt kurze</text>
<text x="1263.8" y="92" font-size="19" fill="#111" text-anchor="middle" textLength="184" lengthAdjust="spacingAndGlyphs">Änderung 50-&gt;0-&gt;50</text>
<path d="M175.82 259.5 L180.33 259.52 L184.84 259.6 L189.34 259.73 L193.82 259.93 L198.28 260.18 L202.72 260.49 L207.13 260.85 L211.49 261.27 L215.82 261.75 L220.1 262.28 L224.33 262.87 L228.5 263.51 L232.6 264.2 L236.64 264.94 L240.61 265.74 L244.5 266.59 L248.31 267.48 L252.04 268.43 L255.67 269.42 L259.21 270.46 L262.65 271.54 L265.99 272.67 L269.21 273.84 L272.33 275.04 L275.34 276.29 L278.22 277.58 L280.98 278.9 L283.62 280.26 L286.13 281.65 L288.51 283.07 L290.75 284.52 L292.86 286 L294.83 287.5 L296.65 289.03 L298.33 290.58 L299.87 292.15 L301.26 293.75 L302.5 295.35 L303.58 296.98 L304.52 298.61 L305.3 300.26 L305.93 301.91 L306.4 303.58 L306.72 305.24 L306.88 306.91 L306.88 308.59 L306.73 310.26 L306.42 311.93 L305.96 313.59 L305.34 315.24 L304.57 316.89 L303.64 318.53 L302.56 320.15 L301.33 321.76 L299.96 323.35 L298.43 324.93 L296.76 326.48 L294.94 328.01 L292.98 329.51 L290.88 330.99 L288.64 332.45 L286.27 333.87 L283.77 335.26 L281.14 336.62 L278.39 337.94 L275.51 339.23 L272.51 340.48 L269.4 341.69 L266.18 342.86 L262.85 343.99 L259.42 345.08 L255.88 346.12 L252.25 347.11 L248.54 348.06 L244.73 348.96 L240.84 349.81 L236.88 350.61 L232.84 351.36 L228.74 352.05 L224.57 352.7 L220.35 353.29 L216.07 353.82 L211.75 354.3 L207.38 354.73 L202.98 355.09 L198.55 355.4 L194.08 355.66 L189.6 355.86 L185.1 355.99 L180.6 356.08 L176.08 356.1 L171.57 356.07 L167.06 355.97 L162.57 355.82 L158.09 355.62 L153.63 355.35 L149.2 355.03 L144.81 354.65 L140.45 354.22 L136.13 353.73 L131.86 353.18 L127.65 352.58 L123.5 351.93 L119.4 351.22 L115.38 350.47 L111.43 349.66 L107.56 348.8 L103.77 347.89 L100.07 346.93 L96.46 345.93 L92.94 344.88 L89.53 343.79 L86.22 342.65 L83.01 341.47 L79.92 340.25 L76.95 339 L74.09 337.7 L71.36 336.37 L68.76 335.01 L66.28 333.61 L63.93 332.18 L61.72 330.72 L59.65 329.24 L57.72 327.73 L55.92 326.19 L54.28 324.64 L52.78 323.06 L51.43 321.46 L50.23 319.85 L49.17 318.23 L48.28 316.59 L47.53 314.94 L46.94 313.28 L46.51 311.62 L46.23 309.95 L46.11 308.28 L46.14 306.61 L46.33 304.94 L46.68 303.27 L47.18 301.61 L47.83 299.95 L48.64 298.31 L49.61 296.67 L50.72 295.05 L51.99 293.45 L53.4 291.86 L54.97 290.29 L56.67 288.75 L58.53 287.22 L60.52 285.72 L62.65 284.25 L64.92 282.8 L67.32 281.39 L69.86 280 L72.52 278.65 L75.3 277.34 L78.21 276.06 L81.24 274.82 L84.37 273.62 L87.62 272.46 L90.98 271.34 L94.44 270.26 L97.99 269.23 L101.64 268.25 L105.38 267.32 L109.21 266.43 L113.12 265.59 L117.1 264.8 L121.15 264.07 L125.27 263.38 L129.45 262.75 L133.69 262.18 L137.98 261.66 L142.31 261.19 L146.69 260.78 L151.1 260.43 L155.54 260.13 L160.01 259.89 L164.49 259.71 L168.99 259.58 L164 128.8 Z" fill="#e4e4e4" stroke="#00ee00" stroke-width="4.2" stroke-linejoin="miter" stroke-miterlimit="30"/>
<text x="176.5" y="302.8" font-size="19" fill="#111" text-anchor="middle" textLength="175" lengthAdjust="spacingAndGlyphs">Trigger für morgens</text>
<text x="176.5" y="326.2" font-size="19" fill="#111" text-anchor="middle" textLength="155.5" lengthAdjust="spacingAndGlyphs">hochfahren (0,5s)</text>
<path d="M1598.13 348.65 L1600.95 346.71 L1603.9 344.81 L1606.97 342.95 L1610.17 341.15 L1613.48 339.4 L1616.91 337.71 L1620.45 336.07 L1624.09 334.49 L1627.84 332.97 L1631.69 331.51 L1635.63 330.11 L1639.67 328.78 L1643.79 327.51 L1647.99 326.31 L1652.27 325.17 L1656.63 324.11 L1661.05 323.12 L1665.54 322.2 L1670.08 321.35 L1674.68 320.57 L1679.33 319.87 L1684.02 319.25 L1688.75 318.7 L1693.52 318.22 L1698.31 317.83 L1703.13 317.51 L1707.97 317.26 L1712.82 317.1 L1717.68 317.01 L1722.55 317.01 L1727.41 317.08 L1732.26 317.23 L1737.1 317.45 L1741.92 317.76 L1746.72 318.14 L1751.5 318.6 L1756.23 319.13 L1760.94 319.74 L1765.59 320.43 L1770.2 321.19 L1774.76 322.02 L1779.26 322.93 L1783.69 323.91 L1788.06 324.96 L1792.36 326.08 L1796.58 327.26 L1800.72 328.52 L1804.77 329.84 L1808.73 331.22 L1812.6 332.67 L1816.37 334.18 L1820.03 335.75 L1823.59 337.38 L1827.04 339.06 L1830.38 340.8 L1833.6 342.59 L1836.69 344.43 L1839.67 346.32 L1842.51 348.26 L1845.23 350.24 L1847.81 352.27 L1850.25 354.33 L1852.56 356.43 L1854.72 358.57 L1856.75 360.75 L1858.62 362.95 L1860.35 365.18 L1861.93 367.44 L1863.35 369.73 L1864.63 372.03 L1865.75 374.36 L1866.71 376.7 L1867.52 379.05 L1868.17 381.42 L1868.66 383.8 L1869 386.18 L1869.17 388.57 L1869.19 390.96 L1869.04 393.34 L1868.74 395.73 L1868.28 398.11 L1867.66 400.47 L1866.89 402.83 L1865.95 405.18 L1864.86 407.51 L1863.62 409.82 L1862.22 412.1 L1860.68 414.37 L1858.98 416.61 L1857.13 418.82 L1855.14 421 L1853 423.14 L1850.73 425.25 L1848.31 427.32 L1845.75 429.36 L1843.07 431.35 L1840.25 433.29 L1837.3 435.19 L1834.23 437.05 L1831.03 438.85 L1827.72 440.6 L1824.29 442.29 L1820.75 443.93 L1817.11 445.51 L1813.36 447.03 L1809.51 448.49 L1805.57 449.89 L1801.53 451.22 L1797.41 452.49 L1793.21 453.69 L1788.93 454.83 L1784.57 455.89 L1780.15 456.88 L1775.66 457.8 L1771.12 458.65 L1766.52 459.43 L1761.87 460.13 L1757.18 460.75 L1752.45 461.3 L1747.68 461.78 L1742.89 462.17 L1738.07 462.49 L1733.23 462.74 L1728.38 462.9 L1723.52 462.99 L1718.65 462.99 L1713.79 462.92 L1708.94 462.77 L1704.1 462.55 L1699.28 462.24 L1694.48 461.86 L1689.7 461.4 L1684.97 460.87 L1680.26 460.26 L1675.61 459.57 L1671 458.81 L1666.44 457.98 L1661.94 457.07 L1657.51 456.09 L1653.14 455.04 L1648.84 453.92 L1644.62 452.74 L1640.48 451.48 L1636.43 450.16 L1632.47 448.78 L1628.6 447.33 L1624.83 445.82 L1621.17 444.25 L1617.61 442.62 L1614.16 440.94 L1610.82 439.2 L1607.6 437.41 L1604.51 435.57 L1601.53 433.68 L1598.69 431.74 L1595.97 429.76 L1593.39 427.73 L1590.95 425.67 L1588.64 423.57 L1586.48 421.43 L1584.45 419.25 L1582.58 417.05 L1580.85 414.82 L1579.27 412.56 L1577.85 410.27 L1576.57 407.97 L1575.45 405.64 L1574.49 403.3 L1573.68 400.95 L1573.03 398.58 L1572.54 396.2 L1572.2 393.82 L1572.03 391.43 L1572.01 389.04 L1572.16 386.66 L1572.46 384.27 L1572.92 381.89 L1573.54 379.53 L1574.31 377.17 L1575.25 374.82 L936.8 228 Z" fill="#e4e4e4" stroke="#00ee00" stroke-width="4.2" stroke-linejoin="miter" stroke-miterlimit="30"/>
<text x="1720.8" y="362.5" font-size="19" fill="#111" text-anchor="middle" textLength="101" lengthAdjust="spacingAndGlyphs">einstellbare</text>
<text x="1720.8" y="385.35" font-size="19" fill="#111" text-anchor="middle" textLength="256" lengthAdjust="spacingAndGlyphs">Verzögerung für Hochfahren,</text>
<text x="1720.8" y="408.2" font-size="19" fill="#111" text-anchor="middle" textLength="181" lengthAdjust="spacingAndGlyphs">aber nur wenn keine</text>
<text x="1720.8" y="431.05" font-size="19" fill="#111" text-anchor="middle" textLength="184" lengthAdjust="spacingAndGlyphs">Beschattung aktiv ist</text>
<line x1="1828" y1="179.9" x2="184" y2="462.5" stroke="#00ee00" stroke-width="4"/>
<path d="M169.7 466.6 L185.7 454.9 L190 473.8 Z" fill="#00ee00"/>
</svg>
</body></html>
